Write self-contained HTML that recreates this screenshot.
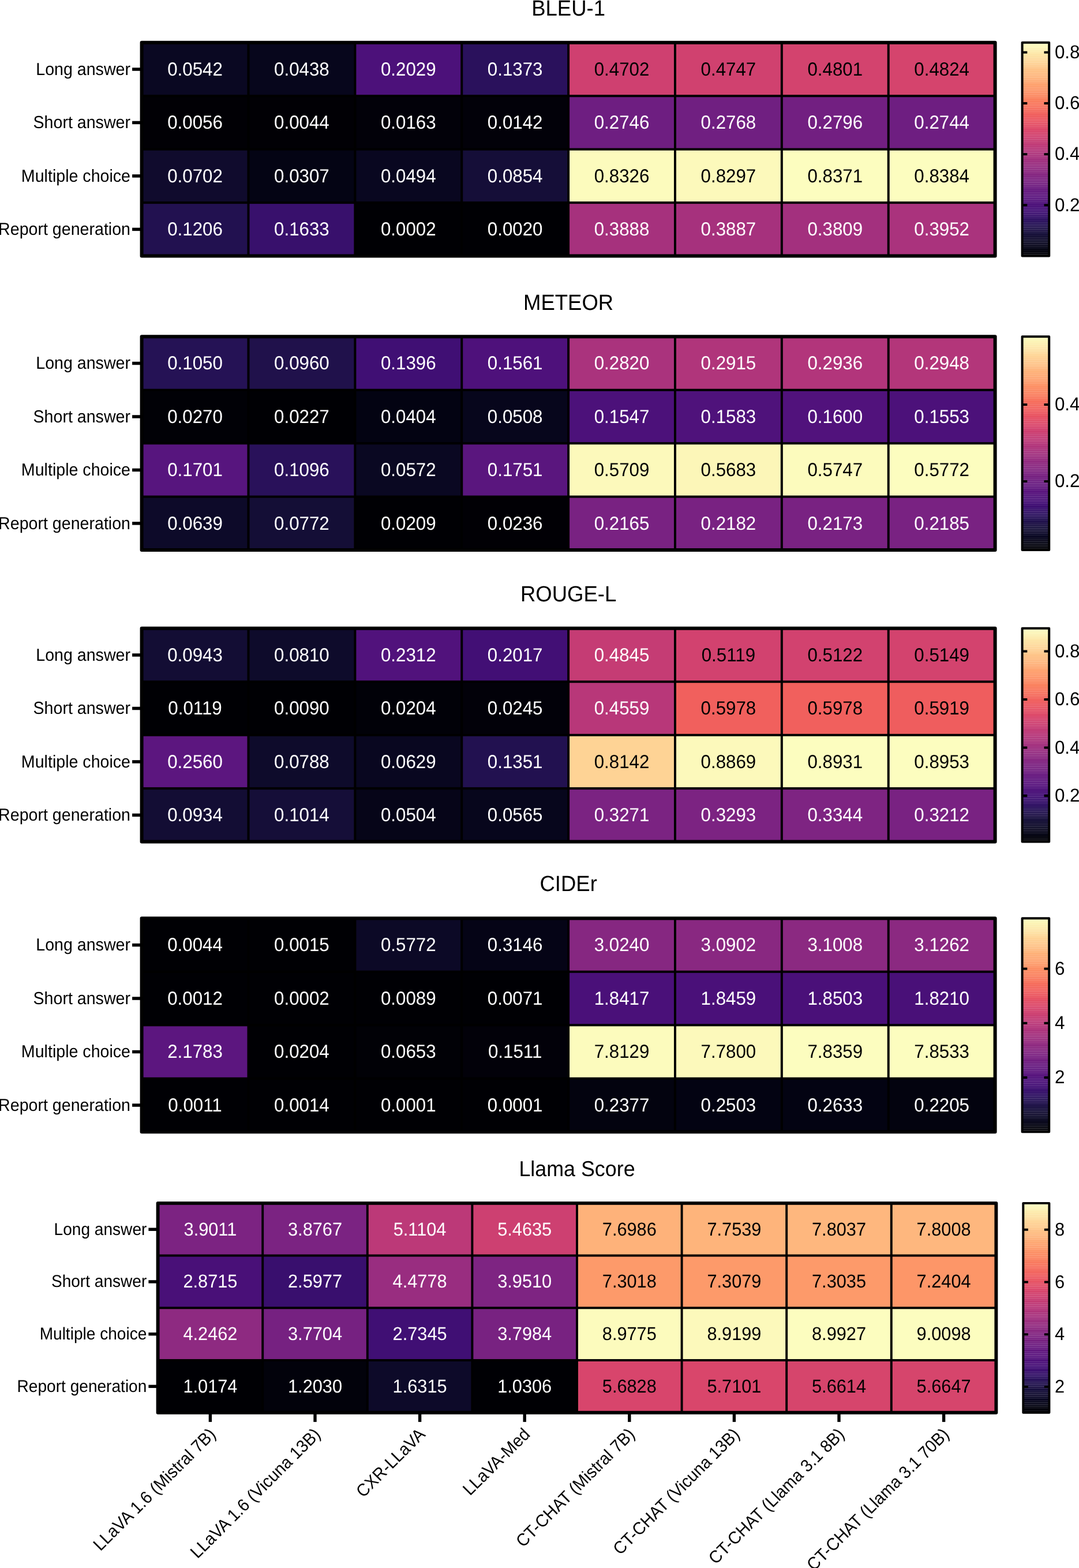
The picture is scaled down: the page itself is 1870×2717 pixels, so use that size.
<!DOCTYPE html>
<html><head><meta charset="utf-8"><title>Heatmaps</title><style>
html,body{margin:0;padding:0;background:#fff;}
body{width:1870px;height:2717px;overflow:hidden;}
svg{display:block;}
text{font-family:"Liberation Sans",Arial,Helvetica,sans-serif;text-rendering:geometricPrecision;}
.t{text-anchor:middle;fill:#000;}
.c{text-anchor:middle;}
.r{text-anchor:end;fill:#000;}
.b{text-anchor:start;fill:#000;}
.x{text-anchor:end;fill:#000;}
</style></head><body>
<svg width="1870" height="2717" viewBox="0 0 1870 2717">
<g>
<text class="t" style="font-size:36.50px" transform="translate(985.10 26.50) scale(1 1.045)">BLEU-1</text>
<rect x="245.60" y="73.80" width="1479.00" height="369.80" fill="#000"/>
<rect x="247.60" y="75.80" width="180.88" height="88.45" fill="#0a0822"/>
<rect x="432.48" y="75.80" width="180.88" height="88.45" fill="#07061c"/>
<rect x="617.35" y="75.80" width="180.88" height="88.45" fill="#4c117a"/>
<rect x="802.23" y="75.80" width="180.88" height="88.45" fill="#2a115c"/>
<rect x="987.10" y="75.80" width="180.88" height="88.45" fill="#cf4070"/>
<rect x="1171.97" y="75.80" width="180.88" height="88.45" fill="#d0416f"/>
<rect x="1356.85" y="75.80" width="180.88" height="88.45" fill="#d3436e"/>
<rect x="1541.72" y="75.80" width="180.88" height="88.45" fill="#d5446d"/>
<rect x="247.60" y="168.25" width="180.88" height="88.45" fill="#010005"/>
<rect x="432.48" y="168.25" width="180.88" height="88.45" fill="#010005"/>
<rect x="617.35" y="168.25" width="180.88" height="88.45" fill="#020109"/>
<rect x="802.23" y="168.25" width="180.88" height="88.45" fill="#020109"/>
<rect x="987.10" y="168.25" width="180.88" height="88.45" fill="#6e1e81"/>
<rect x="1171.97" y="168.25" width="180.88" height="88.45" fill="#701f81"/>
<rect x="1356.85" y="168.25" width="180.88" height="88.45" fill="#721f81"/>
<rect x="1541.72" y="168.25" width="180.88" height="88.45" fill="#6e1e81"/>
<rect x="247.60" y="260.70" width="180.88" height="88.45" fill="#100b2d"/>
<rect x="432.48" y="260.70" width="180.88" height="88.45" fill="#040414"/>
<rect x="617.35" y="260.70" width="180.88" height="88.45" fill="#090720"/>
<rect x="802.23" y="260.70" width="180.88" height="88.45" fill="#150e38"/>
<rect x="987.10" y="260.70" width="180.88" height="88.45" fill="#fcfbbd"/>
<rect x="1171.97" y="260.70" width="180.88" height="88.45" fill="#fcf9bb"/>
<rect x="1356.85" y="260.70" width="180.88" height="88.45" fill="#fcfdbf"/>
<rect x="1541.72" y="260.70" width="180.88" height="88.45" fill="#fcfdbf"/>
<rect x="247.60" y="353.15" width="180.88" height="88.45" fill="#221150"/>
<rect x="432.48" y="353.15" width="180.88" height="88.45" fill="#38106c"/>
<rect x="617.35" y="353.15" width="180.88" height="88.45" fill="#000004"/>
<rect x="802.23" y="353.15" width="180.88" height="88.45" fill="#000004"/>
<rect x="987.10" y="353.15" width="180.88" height="88.45" fill="#a6317d"/>
<rect x="1171.97" y="353.15" width="180.88" height="88.45" fill="#a6317d"/>
<rect x="1356.85" y="353.15" width="180.88" height="88.45" fill="#a3307e"/>
<rect x="1541.72" y="353.15" width="180.88" height="88.45" fill="#aa337d"/>
<rect x="245.60" y="73.80" width="1479.00" height="369.80" fill="none" stroke="#000" stroke-width="6.00" stroke-linejoin="round"/>
<text class="c" fill="#fff" style="font-size:31.30px" transform="translate(338.04 130.66) scale(1 1.050)">0.0542</text>
<text class="c" fill="#fff" style="font-size:31.30px" transform="translate(522.91 130.66) scale(1 1.050)">0.0438</text>
<text class="c" fill="#fff" style="font-size:31.30px" transform="translate(707.79 130.66) scale(1 1.050)">0.2029</text>
<text class="c" fill="#fff" style="font-size:31.30px" transform="translate(892.66 130.66) scale(1 1.050)">0.1373</text>
<text class="c" fill="#000" style="font-size:31.30px" transform="translate(1077.54 130.66) scale(1 1.050)">0.4702</text>
<text class="c" fill="#000" style="font-size:31.30px" transform="translate(1262.41 130.66) scale(1 1.050)">0.4747</text>
<text class="c" fill="#000" style="font-size:31.30px" transform="translate(1447.29 130.66) scale(1 1.050)">0.4801</text>
<text class="c" fill="#000" style="font-size:31.30px" transform="translate(1632.16 130.66) scale(1 1.050)">0.4824</text>
<text class="c" fill="#fff" style="font-size:31.30px" transform="translate(338.04 223.11) scale(1 1.050)">0.0056</text>
<text class="c" fill="#fff" style="font-size:31.30px" transform="translate(522.91 223.11) scale(1 1.050)">0.0044</text>
<text class="c" fill="#fff" style="font-size:31.30px" transform="translate(707.79 223.11) scale(1 1.050)">0.0163</text>
<text class="c" fill="#fff" style="font-size:31.30px" transform="translate(892.66 223.11) scale(1 1.050)">0.0142</text>
<text class="c" fill="#fff" style="font-size:31.30px" transform="translate(1077.54 223.11) scale(1 1.050)">0.2746</text>
<text class="c" fill="#fff" style="font-size:31.30px" transform="translate(1262.41 223.11) scale(1 1.050)">0.2768</text>
<text class="c" fill="#fff" style="font-size:31.30px" transform="translate(1447.29 223.11) scale(1 1.050)">0.2796</text>
<text class="c" fill="#fff" style="font-size:31.30px" transform="translate(1632.16 223.11) scale(1 1.050)">0.2744</text>
<text class="c" fill="#fff" style="font-size:31.30px" transform="translate(338.04 315.56) scale(1 1.050)">0.0702</text>
<text class="c" fill="#fff" style="font-size:31.30px" transform="translate(522.91 315.56) scale(1 1.050)">0.0307</text>
<text class="c" fill="#fff" style="font-size:31.30px" transform="translate(707.79 315.56) scale(1 1.050)">0.0494</text>
<text class="c" fill="#fff" style="font-size:31.30px" transform="translate(892.66 315.56) scale(1 1.050)">0.0854</text>
<text class="c" fill="#000" style="font-size:31.30px" transform="translate(1077.54 315.56) scale(1 1.050)">0.8326</text>
<text class="c" fill="#000" style="font-size:31.30px" transform="translate(1262.41 315.56) scale(1 1.050)">0.8297</text>
<text class="c" fill="#000" style="font-size:31.30px" transform="translate(1447.29 315.56) scale(1 1.050)">0.8371</text>
<text class="c" fill="#000" style="font-size:31.30px" transform="translate(1632.16 315.56) scale(1 1.050)">0.8384</text>
<text class="c" fill="#fff" style="font-size:31.30px" transform="translate(338.04 408.01) scale(1 1.050)">0.1206</text>
<text class="c" fill="#fff" style="font-size:31.30px" transform="translate(522.91 408.01) scale(1 1.050)">0.1633</text>
<text class="c" fill="#fff" style="font-size:31.30px" transform="translate(707.79 408.01) scale(1 1.050)">0.0002</text>
<text class="c" fill="#fff" style="font-size:31.30px" transform="translate(892.66 408.01) scale(1 1.050)">0.0020</text>
<text class="c" fill="#fff" style="font-size:31.30px" transform="translate(1077.54 408.01) scale(1 1.050)">0.3888</text>
<text class="c" fill="#fff" style="font-size:31.30px" transform="translate(1262.41 408.01) scale(1 1.050)">0.3887</text>
<text class="c" fill="#fff" style="font-size:31.30px" transform="translate(1447.29 408.01) scale(1 1.050)">0.3809</text>
<text class="c" fill="#fff" style="font-size:31.30px" transform="translate(1632.16 408.01) scale(1 1.050)">0.3952</text>
<line x1="229.10" y1="120.03" x2="245.60" y2="120.03" stroke="#000" stroke-width="5.50"/>
<text class="r" style="font-size:28.60px" transform="translate(226.00 129.75) scale(1 1.060)">Long answer</text>
<line x1="229.10" y1="212.48" x2="245.60" y2="212.48" stroke="#000" stroke-width="5.50"/>
<text class="r" style="font-size:28.60px" transform="translate(226.00 222.20) scale(1 1.060)">Short answer</text>
<line x1="229.10" y1="304.93" x2="245.60" y2="304.93" stroke="#000" stroke-width="5.50"/>
<text class="r" style="font-size:28.60px" transform="translate(226.00 314.65) scale(1 1.060)">Multiple choice</text>
<line x1="229.10" y1="397.38" x2="245.60" y2="397.38" stroke="#000" stroke-width="5.50"/>
<text class="r" style="font-size:28.60px" transform="translate(226.00 407.10) scale(1 1.060)">Report generation</text>
<rect x="1771.60" y="440.711" width="46.60" height="2.889" fill="#010005"/>
<rect x="1771.60" y="437.822" width="46.60" height="2.889" fill="#010108"/>
<rect x="1771.60" y="434.933" width="46.60" height="2.889" fill="#02020b"/>
<rect x="1771.60" y="432.044" width="46.60" height="2.889" fill="#03030f"/>
<rect x="1771.60" y="429.155" width="46.60" height="2.889" fill="#040414"/>
<rect x="1771.60" y="426.266" width="46.60" height="2.889" fill="#060518"/>
<rect x="1771.60" y="423.377" width="46.60" height="2.889" fill="#07061c"/>
<rect x="1771.60" y="420.488" width="46.60" height="2.889" fill="#090720"/>
<rect x="1771.60" y="417.598" width="46.60" height="2.889" fill="#0b0924"/>
<rect x="1771.60" y="414.709" width="46.60" height="2.889" fill="#0d0a29"/>
<rect x="1771.60" y="411.820" width="46.60" height="2.889" fill="#100b2d"/>
<rect x="1771.60" y="408.931" width="46.60" height="2.889" fill="#120d31"/>
<rect x="1771.60" y="406.042" width="46.60" height="2.889" fill="#140e36"/>
<rect x="1771.60" y="403.153" width="46.60" height="2.889" fill="#160f3b"/>
<rect x="1771.60" y="400.264" width="46.60" height="2.889" fill="#19103f"/>
<rect x="1771.60" y="397.375" width="46.60" height="2.889" fill="#1c1044"/>
<rect x="1771.60" y="394.486" width="46.60" height="2.889" fill="#1e1149"/>
<rect x="1771.60" y="391.597" width="46.60" height="2.889" fill="#21114e"/>
<rect x="1771.60" y="388.708" width="46.60" height="2.889" fill="#241253"/>
<rect x="1771.60" y="385.819" width="46.60" height="2.889" fill="#271258"/>
<rect x="1771.60" y="382.930" width="46.60" height="2.889" fill="#2a115c"/>
<rect x="1771.60" y="380.041" width="46.60" height="2.889" fill="#2d1161"/>
<rect x="1771.60" y="377.152" width="46.60" height="2.889" fill="#311165"/>
<rect x="1771.60" y="374.263" width="46.60" height="2.889" fill="#341069"/>
<rect x="1771.60" y="371.373" width="46.60" height="2.889" fill="#38106c"/>
<rect x="1771.60" y="368.484" width="46.60" height="2.889" fill="#3b0f70"/>
<rect x="1771.60" y="365.595" width="46.60" height="2.889" fill="#3f0f72"/>
<rect x="1771.60" y="362.706" width="46.60" height="2.889" fill="#420f75"/>
<rect x="1771.60" y="359.817" width="46.60" height="2.889" fill="#451077"/>
<rect x="1771.60" y="356.928" width="46.60" height="2.889" fill="#491078"/>
<rect x="1771.60" y="354.039" width="46.60" height="2.889" fill="#4c117a"/>
<rect x="1771.60" y="351.150" width="46.60" height="2.889" fill="#4f127b"/>
<rect x="1771.60" y="348.261" width="46.60" height="2.889" fill="#52137c"/>
<rect x="1771.60" y="345.372" width="46.60" height="2.889" fill="#56147d"/>
<rect x="1771.60" y="342.483" width="46.60" height="2.889" fill="#59157e"/>
<rect x="1771.60" y="339.594" width="46.60" height="2.889" fill="#5c167f"/>
<rect x="1771.60" y="336.705" width="46.60" height="2.889" fill="#5f187f"/>
<rect x="1771.60" y="333.816" width="46.60" height="2.889" fill="#621980"/>
<rect x="1771.60" y="330.927" width="46.60" height="2.889" fill="#651a80"/>
<rect x="1771.60" y="328.038" width="46.60" height="2.889" fill="#681c81"/>
<rect x="1771.60" y="325.148" width="46.60" height="2.889" fill="#6b1d81"/>
<rect x="1771.60" y="322.259" width="46.60" height="2.889" fill="#6e1e81"/>
<rect x="1771.60" y="319.370" width="46.60" height="2.889" fill="#721f81"/>
<rect x="1771.60" y="316.481" width="46.60" height="2.889" fill="#752181"/>
<rect x="1771.60" y="313.592" width="46.60" height="2.889" fill="#782281"/>
<rect x="1771.60" y="310.703" width="46.60" height="2.889" fill="#7b2382"/>
<rect x="1771.60" y="307.814" width="46.60" height="2.889" fill="#7e2482"/>
<rect x="1771.60" y="304.925" width="46.60" height="2.889" fill="#812581"/>
<rect x="1771.60" y="302.036" width="46.60" height="2.889" fill="#842681"/>
<rect x="1771.60" y="299.147" width="46.60" height="2.889" fill="#882781"/>
<rect x="1771.60" y="296.258" width="46.60" height="2.889" fill="#8b2981"/>
<rect x="1771.60" y="293.369" width="46.60" height="2.889" fill="#8e2a81"/>
<rect x="1771.60" y="290.480" width="46.60" height="2.889" fill="#912b81"/>
<rect x="1771.60" y="287.591" width="46.60" height="2.889" fill="#942c80"/>
<rect x="1771.60" y="284.702" width="46.60" height="2.889" fill="#982d80"/>
<rect x="1771.60" y="281.812" width="46.60" height="2.889" fill="#9b2e7f"/>
<rect x="1771.60" y="278.923" width="46.60" height="2.889" fill="#9e2f7f"/>
<rect x="1771.60" y="276.034" width="46.60" height="2.889" fill="#a1307e"/>
<rect x="1771.60" y="273.145" width="46.60" height="2.889" fill="#a5317e"/>
<rect x="1771.60" y="270.256" width="46.60" height="2.889" fill="#a8327d"/>
<rect x="1771.60" y="267.367" width="46.60" height="2.889" fill="#ab337c"/>
<rect x="1771.60" y="264.478" width="46.60" height="2.889" fill="#ae347b"/>
<rect x="1771.60" y="261.589" width="46.60" height="2.889" fill="#b2357b"/>
<rect x="1771.60" y="258.700" width="46.60" height="2.889" fill="#b5367a"/>
<rect x="1771.60" y="255.811" width="46.60" height="2.889" fill="#b83779"/>
<rect x="1771.60" y="252.922" width="46.60" height="2.889" fill="#bc3978"/>
<rect x="1771.60" y="250.033" width="46.60" height="2.889" fill="#bf3a77"/>
<rect x="1771.60" y="247.144" width="46.60" height="2.889" fill="#c23b75"/>
<rect x="1771.60" y="244.255" width="46.60" height="2.889" fill="#c53c74"/>
<rect x="1771.60" y="241.366" width="46.60" height="2.889" fill="#c83e73"/>
<rect x="1771.60" y="238.477" width="46.60" height="2.889" fill="#cc3f71"/>
<rect x="1771.60" y="235.588" width="46.60" height="2.889" fill="#cf4070"/>
<rect x="1771.60" y="232.698" width="46.60" height="2.889" fill="#d2426f"/>
<rect x="1771.60" y="229.809" width="46.60" height="2.889" fill="#d5446d"/>
<rect x="1771.60" y="226.920" width="46.60" height="2.889" fill="#d8456c"/>
<rect x="1771.60" y="224.031" width="46.60" height="2.889" fill="#db476a"/>
<rect x="1771.60" y="221.142" width="46.60" height="2.889" fill="#de4968"/>
<rect x="1771.60" y="218.253" width="46.60" height="2.889" fill="#e04c67"/>
<rect x="1771.60" y="215.364" width="46.60" height="2.889" fill="#e34e65"/>
<rect x="1771.60" y="212.475" width="46.60" height="2.889" fill="#e55064"/>
<rect x="1771.60" y="209.586" width="46.60" height="2.889" fill="#e85362"/>
<rect x="1771.60" y="206.697" width="46.60" height="2.889" fill="#ea5661"/>
<rect x="1771.60" y="203.808" width="46.60" height="2.889" fill="#ec5860"/>
<rect x="1771.60" y="200.919" width="46.60" height="2.889" fill="#ee5b5e"/>
<rect x="1771.60" y="198.030" width="46.60" height="2.889" fill="#f05f5e"/>
<rect x="1771.60" y="195.141" width="46.60" height="2.889" fill="#f2625d"/>
<rect x="1771.60" y="192.252" width="46.60" height="2.889" fill="#f3655c"/>
<rect x="1771.60" y="189.363" width="46.60" height="2.889" fill="#f4695c"/>
<rect x="1771.60" y="186.473" width="46.60" height="2.889" fill="#f66c5c"/>
<rect x="1771.60" y="183.584" width="46.60" height="2.889" fill="#f7705c"/>
<rect x="1771.60" y="180.695" width="46.60" height="2.889" fill="#f8745c"/>
<rect x="1771.60" y="177.806" width="46.60" height="2.889" fill="#f9785d"/>
<rect x="1771.60" y="174.917" width="46.60" height="2.889" fill="#f97b5d"/>
<rect x="1771.60" y="172.028" width="46.60" height="2.889" fill="#fa7f5e"/>
<rect x="1771.60" y="169.139" width="46.60" height="2.889" fill="#fb835f"/>
<rect x="1771.60" y="166.250" width="46.60" height="2.889" fill="#fb8761"/>
<rect x="1771.60" y="163.361" width="46.60" height="2.889" fill="#fc8a62"/>
<rect x="1771.60" y="160.472" width="46.60" height="2.889" fill="#fc8e64"/>
<rect x="1771.60" y="157.583" width="46.60" height="2.889" fill="#fd9266"/>
<rect x="1771.60" y="154.694" width="46.60" height="2.889" fill="#fd9668"/>
<rect x="1771.60" y="151.805" width="46.60" height="2.889" fill="#fd9a6a"/>
<rect x="1771.60" y="148.916" width="46.60" height="2.889" fill="#fe9d6c"/>
<rect x="1771.60" y="146.027" width="46.60" height="2.889" fill="#fea16e"/>
<rect x="1771.60" y="143.137" width="46.60" height="2.889" fill="#fea571"/>
<rect x="1771.60" y="140.248" width="46.60" height="2.889" fill="#fea973"/>
<rect x="1771.60" y="137.359" width="46.60" height="2.889" fill="#feac76"/>
<rect x="1771.60" y="134.470" width="46.60" height="2.889" fill="#feb078"/>
<rect x="1771.60" y="131.581" width="46.60" height="2.889" fill="#feb47b"/>
<rect x="1771.60" y="128.692" width="46.60" height="2.889" fill="#feb77e"/>
<rect x="1771.60" y="125.803" width="46.60" height="2.889" fill="#febb81"/>
<rect x="1771.60" y="122.914" width="46.60" height="2.889" fill="#febf84"/>
<rect x="1771.60" y="120.025" width="46.60" height="2.889" fill="#fec287"/>
<rect x="1771.60" y="117.136" width="46.60" height="2.889" fill="#fec68a"/>
<rect x="1771.60" y="114.247" width="46.60" height="2.889" fill="#feca8d"/>
<rect x="1771.60" y="111.358" width="46.60" height="2.889" fill="#fecd90"/>
<rect x="1771.60" y="108.469" width="46.60" height="2.889" fill="#fed194"/>
<rect x="1771.60" y="105.580" width="46.60" height="2.889" fill="#fed597"/>
<rect x="1771.60" y="102.691" width="46.60" height="2.889" fill="#fed89a"/>
<rect x="1771.60" y="99.802" width="46.60" height="2.889" fill="#fddc9e"/>
<rect x="1771.60" y="96.913" width="46.60" height="2.889" fill="#fde0a1"/>
<rect x="1771.60" y="94.023" width="46.60" height="2.889" fill="#fde3a5"/>
<rect x="1771.60" y="91.134" width="46.60" height="2.889" fill="#fde7a9"/>
<rect x="1771.60" y="88.245" width="46.60" height="2.889" fill="#fdebac"/>
<rect x="1771.60" y="85.356" width="46.60" height="2.889" fill="#fceeb0"/>
<rect x="1771.60" y="82.467" width="46.60" height="2.889" fill="#fcf2b4"/>
<rect x="1771.60" y="79.578" width="46.60" height="2.889" fill="#fcf6b8"/>
<rect x="1771.60" y="76.689" width="46.60" height="2.889" fill="#fcf9bb"/>
<rect x="1771.60" y="73.800" width="46.60" height="2.889" fill="#fcfdbf"/>
<line x1="1771.60" y1="355.45" x2="1780.30" y2="355.45" stroke="#000" stroke-width="4.00"/>
<line x1="1809.50" y1="355.45" x2="1818.20" y2="355.45" stroke="#000" stroke-width="4.00"/>
<text class="b" style="font-size:31.40px" transform="translate(1827.90 365.68) scale(1 1.030)">0.2</text>
<line x1="1771.60" y1="267.21" x2="1780.30" y2="267.21" stroke="#000" stroke-width="4.00"/>
<line x1="1809.50" y1="267.21" x2="1818.20" y2="267.21" stroke="#000" stroke-width="4.00"/>
<text class="b" style="font-size:31.40px" transform="translate(1827.90 277.44) scale(1 1.030)">0.4</text>
<line x1="1771.60" y1="178.98" x2="1780.30" y2="178.98" stroke="#000" stroke-width="4.00"/>
<line x1="1809.50" y1="178.98" x2="1818.20" y2="178.98" stroke="#000" stroke-width="4.00"/>
<text class="b" style="font-size:31.40px" transform="translate(1827.90 189.20) scale(1 1.030)">0.6</text>
<line x1="1771.60" y1="90.74" x2="1780.30" y2="90.74" stroke="#000" stroke-width="4.00"/>
<line x1="1809.50" y1="90.74" x2="1818.20" y2="90.74" stroke="#000" stroke-width="4.00"/>
<text class="b" style="font-size:31.40px" transform="translate(1827.90 100.97) scale(1 1.030)">0.8</text>
<rect x="1771.60" y="73.80" width="46.60" height="369.80" fill="none" stroke="#000" stroke-width="4.00" stroke-linejoin="round"/>
</g>
<g>
<text class="t" style="font-size:36.50px" transform="translate(985.10 536.60) scale(1 1.045)">METEOR</text>
<rect x="245.60" y="583.30" width="1479.00" height="369.80" fill="#000"/>
<rect x="247.60" y="585.30" width="180.88" height="88.45" fill="#251255"/>
<rect x="432.48" y="585.30" width="180.88" height="88.45" fill="#20114b"/>
<rect x="617.35" y="585.30" width="180.88" height="88.45" fill="#400f74"/>
<rect x="802.23" y="585.30" width="180.88" height="88.45" fill="#4e117b"/>
<rect x="987.10" y="585.30" width="180.88" height="88.45" fill="#aa337d"/>
<rect x="1171.97" y="585.30" width="180.88" height="88.45" fill="#b0357b"/>
<rect x="1356.85" y="585.30" width="180.88" height="88.45" fill="#b2357b"/>
<rect x="1541.72" y="585.30" width="180.88" height="88.45" fill="#b3367a"/>
<rect x="247.60" y="677.75" width="180.88" height="88.45" fill="#010106"/>
<rect x="432.48" y="677.75" width="180.88" height="88.45" fill="#000004"/>
<rect x="617.35" y="677.75" width="180.88" height="88.45" fill="#030312"/>
<rect x="802.23" y="677.75" width="180.88" height="88.45" fill="#07061c"/>
<rect x="987.10" y="677.75" width="180.88" height="88.45" fill="#4c117a"/>
<rect x="1171.97" y="677.75" width="180.88" height="88.45" fill="#4f127b"/>
<rect x="1356.85" y="677.75" width="180.88" height="88.45" fill="#51127c"/>
<rect x="1541.72" y="677.75" width="180.88" height="88.45" fill="#4c117a"/>
<rect x="247.60" y="770.20" width="180.88" height="88.45" fill="#57157e"/>
<rect x="432.48" y="770.20" width="180.88" height="88.45" fill="#29115a"/>
<rect x="617.35" y="770.20" width="180.88" height="88.45" fill="#0a0822"/>
<rect x="802.23" y="770.20" width="180.88" height="88.45" fill="#5a167e"/>
<rect x="987.10" y="770.20" width="180.88" height="88.45" fill="#fcf9bb"/>
<rect x="1171.97" y="770.20" width="180.88" height="88.45" fill="#fcf6b8"/>
<rect x="1356.85" y="770.20" width="180.88" height="88.45" fill="#fcfbbd"/>
<rect x="1541.72" y="770.20" width="180.88" height="88.45" fill="#fcfdbf"/>
<rect x="247.60" y="862.65" width="180.88" height="88.45" fill="#0d0a29"/>
<rect x="432.48" y="862.65" width="180.88" height="88.45" fill="#140e36"/>
<rect x="617.35" y="862.65" width="180.88" height="88.45" fill="#000004"/>
<rect x="802.23" y="862.65" width="180.88" height="88.45" fill="#010005"/>
<rect x="987.10" y="862.65" width="180.88" height="88.45" fill="#792282"/>
<rect x="1171.97" y="862.65" width="180.88" height="88.45" fill="#792282"/>
<rect x="1356.85" y="862.65" width="180.88" height="88.45" fill="#792282"/>
<rect x="1541.72" y="862.65" width="180.88" height="88.45" fill="#792282"/>
<rect x="245.60" y="583.30" width="1479.00" height="369.80" fill="none" stroke="#000" stroke-width="6.00" stroke-linejoin="round"/>
<text class="c" fill="#fff" style="font-size:31.30px" transform="translate(338.04 640.16) scale(1 1.050)">0.1050</text>
<text class="c" fill="#fff" style="font-size:31.30px" transform="translate(522.91 640.16) scale(1 1.050)">0.0960</text>
<text class="c" fill="#fff" style="font-size:31.30px" transform="translate(707.79 640.16) scale(1 1.050)">0.1396</text>
<text class="c" fill="#fff" style="font-size:31.30px" transform="translate(892.66 640.16) scale(1 1.050)">0.1561</text>
<text class="c" fill="#fff" style="font-size:31.30px" transform="translate(1077.54 640.16) scale(1 1.050)">0.2820</text>
<text class="c" fill="#fff" style="font-size:31.30px" transform="translate(1262.41 640.16) scale(1 1.050)">0.2915</text>
<text class="c" fill="#fff" style="font-size:31.30px" transform="translate(1447.29 640.16) scale(1 1.050)">0.2936</text>
<text class="c" fill="#fff" style="font-size:31.30px" transform="translate(1632.16 640.16) scale(1 1.050)">0.2948</text>
<text class="c" fill="#fff" style="font-size:31.30px" transform="translate(338.04 732.61) scale(1 1.050)">0.0270</text>
<text class="c" fill="#fff" style="font-size:31.30px" transform="translate(522.91 732.61) scale(1 1.050)">0.0227</text>
<text class="c" fill="#fff" style="font-size:31.30px" transform="translate(707.79 732.61) scale(1 1.050)">0.0404</text>
<text class="c" fill="#fff" style="font-size:31.30px" transform="translate(892.66 732.61) scale(1 1.050)">0.0508</text>
<text class="c" fill="#fff" style="font-size:31.30px" transform="translate(1077.54 732.61) scale(1 1.050)">0.1547</text>
<text class="c" fill="#fff" style="font-size:31.30px" transform="translate(1262.41 732.61) scale(1 1.050)">0.1583</text>
<text class="c" fill="#fff" style="font-size:31.30px" transform="translate(1447.29 732.61) scale(1 1.050)">0.1600</text>
<text class="c" fill="#fff" style="font-size:31.30px" transform="translate(1632.16 732.61) scale(1 1.050)">0.1553</text>
<text class="c" fill="#fff" style="font-size:31.30px" transform="translate(338.04 825.06) scale(1 1.050)">0.1701</text>
<text class="c" fill="#fff" style="font-size:31.30px" transform="translate(522.91 825.06) scale(1 1.050)">0.1096</text>
<text class="c" fill="#fff" style="font-size:31.30px" transform="translate(707.79 825.06) scale(1 1.050)">0.0572</text>
<text class="c" fill="#fff" style="font-size:31.30px" transform="translate(892.66 825.06) scale(1 1.050)">0.1751</text>
<text class="c" fill="#000" style="font-size:31.30px" transform="translate(1077.54 825.06) scale(1 1.050)">0.5709</text>
<text class="c" fill="#000" style="font-size:31.30px" transform="translate(1262.41 825.06) scale(1 1.050)">0.5683</text>
<text class="c" fill="#000" style="font-size:31.30px" transform="translate(1447.29 825.06) scale(1 1.050)">0.5747</text>
<text class="c" fill="#000" style="font-size:31.30px" transform="translate(1632.16 825.06) scale(1 1.050)">0.5772</text>
<text class="c" fill="#fff" style="font-size:31.30px" transform="translate(338.04 917.51) scale(1 1.050)">0.0639</text>
<text class="c" fill="#fff" style="font-size:31.30px" transform="translate(522.91 917.51) scale(1 1.050)">0.0772</text>
<text class="c" fill="#fff" style="font-size:31.30px" transform="translate(707.79 917.51) scale(1 1.050)">0.0209</text>
<text class="c" fill="#fff" style="font-size:31.30px" transform="translate(892.66 917.51) scale(1 1.050)">0.0236</text>
<text class="c" fill="#fff" style="font-size:31.30px" transform="translate(1077.54 917.51) scale(1 1.050)">0.2165</text>
<text class="c" fill="#fff" style="font-size:31.30px" transform="translate(1262.41 917.51) scale(1 1.050)">0.2182</text>
<text class="c" fill="#fff" style="font-size:31.30px" transform="translate(1447.29 917.51) scale(1 1.050)">0.2173</text>
<text class="c" fill="#fff" style="font-size:31.30px" transform="translate(1632.16 917.51) scale(1 1.050)">0.2185</text>
<line x1="229.10" y1="629.52" x2="245.60" y2="629.52" stroke="#000" stroke-width="5.50"/>
<text class="r" style="font-size:28.60px" transform="translate(226.00 639.25) scale(1 1.060)">Long answer</text>
<line x1="229.10" y1="721.97" x2="245.60" y2="721.97" stroke="#000" stroke-width="5.50"/>
<text class="r" style="font-size:28.60px" transform="translate(226.00 731.70) scale(1 1.060)">Short answer</text>
<line x1="229.10" y1="814.42" x2="245.60" y2="814.42" stroke="#000" stroke-width="5.50"/>
<text class="r" style="font-size:28.60px" transform="translate(226.00 824.15) scale(1 1.060)">Multiple choice</text>
<line x1="229.10" y1="906.88" x2="245.60" y2="906.88" stroke="#000" stroke-width="5.50"/>
<text class="r" style="font-size:28.60px" transform="translate(226.00 916.60) scale(1 1.060)">Report generation</text>
<rect x="1771.60" y="950.211" width="46.60" height="2.889" fill="#010005"/>
<rect x="1771.60" y="947.322" width="46.60" height="2.889" fill="#010108"/>
<rect x="1771.60" y="944.433" width="46.60" height="2.889" fill="#02020b"/>
<rect x="1771.60" y="941.544" width="46.60" height="2.889" fill="#03030f"/>
<rect x="1771.60" y="938.655" width="46.60" height="2.889" fill="#040414"/>
<rect x="1771.60" y="935.766" width="46.60" height="2.889" fill="#060518"/>
<rect x="1771.60" y="932.877" width="46.60" height="2.889" fill="#07061c"/>
<rect x="1771.60" y="929.988" width="46.60" height="2.889" fill="#090720"/>
<rect x="1771.60" y="927.098" width="46.60" height="2.889" fill="#0b0924"/>
<rect x="1771.60" y="924.209" width="46.60" height="2.889" fill="#0d0a29"/>
<rect x="1771.60" y="921.320" width="46.60" height="2.889" fill="#100b2d"/>
<rect x="1771.60" y="918.431" width="46.60" height="2.889" fill="#120d31"/>
<rect x="1771.60" y="915.542" width="46.60" height="2.889" fill="#140e36"/>
<rect x="1771.60" y="912.653" width="46.60" height="2.889" fill="#160f3b"/>
<rect x="1771.60" y="909.764" width="46.60" height="2.889" fill="#19103f"/>
<rect x="1771.60" y="906.875" width="46.60" height="2.889" fill="#1c1044"/>
<rect x="1771.60" y="903.986" width="46.60" height="2.889" fill="#1e1149"/>
<rect x="1771.60" y="901.097" width="46.60" height="2.889" fill="#21114e"/>
<rect x="1771.60" y="898.208" width="46.60" height="2.889" fill="#241253"/>
<rect x="1771.60" y="895.319" width="46.60" height="2.889" fill="#271258"/>
<rect x="1771.60" y="892.430" width="46.60" height="2.889" fill="#2a115c"/>
<rect x="1771.60" y="889.541" width="46.60" height="2.889" fill="#2d1161"/>
<rect x="1771.60" y="886.652" width="46.60" height="2.889" fill="#311165"/>
<rect x="1771.60" y="883.763" width="46.60" height="2.889" fill="#341069"/>
<rect x="1771.60" y="880.873" width="46.60" height="2.889" fill="#38106c"/>
<rect x="1771.60" y="877.984" width="46.60" height="2.889" fill="#3b0f70"/>
<rect x="1771.60" y="875.095" width="46.60" height="2.889" fill="#3f0f72"/>
<rect x="1771.60" y="872.206" width="46.60" height="2.889" fill="#420f75"/>
<rect x="1771.60" y="869.317" width="46.60" height="2.889" fill="#451077"/>
<rect x="1771.60" y="866.428" width="46.60" height="2.889" fill="#491078"/>
<rect x="1771.60" y="863.539" width="46.60" height="2.889" fill="#4c117a"/>
<rect x="1771.60" y="860.650" width="46.60" height="2.889" fill="#4f127b"/>
<rect x="1771.60" y="857.761" width="46.60" height="2.889" fill="#52137c"/>
<rect x="1771.60" y="854.872" width="46.60" height="2.889" fill="#56147d"/>
<rect x="1771.60" y="851.983" width="46.60" height="2.889" fill="#59157e"/>
<rect x="1771.60" y="849.094" width="46.60" height="2.889" fill="#5c167f"/>
<rect x="1771.60" y="846.205" width="46.60" height="2.889" fill="#5f187f"/>
<rect x="1771.60" y="843.316" width="46.60" height="2.889" fill="#621980"/>
<rect x="1771.60" y="840.427" width="46.60" height="2.889" fill="#651a80"/>
<rect x="1771.60" y="837.538" width="46.60" height="2.889" fill="#681c81"/>
<rect x="1771.60" y="834.648" width="46.60" height="2.889" fill="#6b1d81"/>
<rect x="1771.60" y="831.759" width="46.60" height="2.889" fill="#6e1e81"/>
<rect x="1771.60" y="828.870" width="46.60" height="2.889" fill="#721f81"/>
<rect x="1771.60" y="825.981" width="46.60" height="2.889" fill="#752181"/>
<rect x="1771.60" y="823.092" width="46.60" height="2.889" fill="#782281"/>
<rect x="1771.60" y="820.203" width="46.60" height="2.889" fill="#7b2382"/>
<rect x="1771.60" y="817.314" width="46.60" height="2.889" fill="#7e2482"/>
<rect x="1771.60" y="814.425" width="46.60" height="2.889" fill="#812581"/>
<rect x="1771.60" y="811.536" width="46.60" height="2.889" fill="#842681"/>
<rect x="1771.60" y="808.647" width="46.60" height="2.889" fill="#882781"/>
<rect x="1771.60" y="805.758" width="46.60" height="2.889" fill="#8b2981"/>
<rect x="1771.60" y="802.869" width="46.60" height="2.889" fill="#8e2a81"/>
<rect x="1771.60" y="799.980" width="46.60" height="2.889" fill="#912b81"/>
<rect x="1771.60" y="797.091" width="46.60" height="2.889" fill="#942c80"/>
<rect x="1771.60" y="794.202" width="46.60" height="2.889" fill="#982d80"/>
<rect x="1771.60" y="791.312" width="46.60" height="2.889" fill="#9b2e7f"/>
<rect x="1771.60" y="788.423" width="46.60" height="2.889" fill="#9e2f7f"/>
<rect x="1771.60" y="785.534" width="46.60" height="2.889" fill="#a1307e"/>
<rect x="1771.60" y="782.645" width="46.60" height="2.889" fill="#a5317e"/>
<rect x="1771.60" y="779.756" width="46.60" height="2.889" fill="#a8327d"/>
<rect x="1771.60" y="776.867" width="46.60" height="2.889" fill="#ab337c"/>
<rect x="1771.60" y="773.978" width="46.60" height="2.889" fill="#ae347b"/>
<rect x="1771.60" y="771.089" width="46.60" height="2.889" fill="#b2357b"/>
<rect x="1771.60" y="768.200" width="46.60" height="2.889" fill="#b5367a"/>
<rect x="1771.60" y="765.311" width="46.60" height="2.889" fill="#b83779"/>
<rect x="1771.60" y="762.422" width="46.60" height="2.889" fill="#bc3978"/>
<rect x="1771.60" y="759.533" width="46.60" height="2.889" fill="#bf3a77"/>
<rect x="1771.60" y="756.644" width="46.60" height="2.889" fill="#c23b75"/>
<rect x="1771.60" y="753.755" width="46.60" height="2.889" fill="#c53c74"/>
<rect x="1771.60" y="750.866" width="46.60" height="2.889" fill="#c83e73"/>
<rect x="1771.60" y="747.977" width="46.60" height="2.889" fill="#cc3f71"/>
<rect x="1771.60" y="745.087" width="46.60" height="2.889" fill="#cf4070"/>
<rect x="1771.60" y="742.198" width="46.60" height="2.889" fill="#d2426f"/>
<rect x="1771.60" y="739.309" width="46.60" height="2.889" fill="#d5446d"/>
<rect x="1771.60" y="736.420" width="46.60" height="2.889" fill="#d8456c"/>
<rect x="1771.60" y="733.531" width="46.60" height="2.889" fill="#db476a"/>
<rect x="1771.60" y="730.642" width="46.60" height="2.889" fill="#de4968"/>
<rect x="1771.60" y="727.753" width="46.60" height="2.889" fill="#e04c67"/>
<rect x="1771.60" y="724.864" width="46.60" height="2.889" fill="#e34e65"/>
<rect x="1771.60" y="721.975" width="46.60" height="2.889" fill="#e55064"/>
<rect x="1771.60" y="719.086" width="46.60" height="2.889" fill="#e85362"/>
<rect x="1771.60" y="716.197" width="46.60" height="2.889" fill="#ea5661"/>
<rect x="1771.60" y="713.308" width="46.60" height="2.889" fill="#ec5860"/>
<rect x="1771.60" y="710.419" width="46.60" height="2.889" fill="#ee5b5e"/>
<rect x="1771.60" y="707.530" width="46.60" height="2.889" fill="#f05f5e"/>
<rect x="1771.60" y="704.641" width="46.60" height="2.889" fill="#f2625d"/>
<rect x="1771.60" y="701.752" width="46.60" height="2.889" fill="#f3655c"/>
<rect x="1771.60" y="698.862" width="46.60" height="2.889" fill="#f4695c"/>
<rect x="1771.60" y="695.973" width="46.60" height="2.889" fill="#f66c5c"/>
<rect x="1771.60" y="693.084" width="46.60" height="2.889" fill="#f7705c"/>
<rect x="1771.60" y="690.195" width="46.60" height="2.889" fill="#f8745c"/>
<rect x="1771.60" y="687.306" width="46.60" height="2.889" fill="#f9785d"/>
<rect x="1771.60" y="684.417" width="46.60" height="2.889" fill="#f97b5d"/>
<rect x="1771.60" y="681.528" width="46.60" height="2.889" fill="#fa7f5e"/>
<rect x="1771.60" y="678.639" width="46.60" height="2.889" fill="#fb835f"/>
<rect x="1771.60" y="675.750" width="46.60" height="2.889" fill="#fb8761"/>
<rect x="1771.60" y="672.861" width="46.60" height="2.889" fill="#fc8a62"/>
<rect x="1771.60" y="669.972" width="46.60" height="2.889" fill="#fc8e64"/>
<rect x="1771.60" y="667.083" width="46.60" height="2.889" fill="#fd9266"/>
<rect x="1771.60" y="664.194" width="46.60" height="2.889" fill="#fd9668"/>
<rect x="1771.60" y="661.305" width="46.60" height="2.889" fill="#fd9a6a"/>
<rect x="1771.60" y="658.416" width="46.60" height="2.889" fill="#fe9d6c"/>
<rect x="1771.60" y="655.527" width="46.60" height="2.889" fill="#fea16e"/>
<rect x="1771.60" y="652.638" width="46.60" height="2.889" fill="#fea571"/>
<rect x="1771.60" y="649.748" width="46.60" height="2.889" fill="#fea973"/>
<rect x="1771.60" y="646.859" width="46.60" height="2.889" fill="#feac76"/>
<rect x="1771.60" y="643.970" width="46.60" height="2.889" fill="#feb078"/>
<rect x="1771.60" y="641.081" width="46.60" height="2.889" fill="#feb47b"/>
<rect x="1771.60" y="638.192" width="46.60" height="2.889" fill="#feb77e"/>
<rect x="1771.60" y="635.303" width="46.60" height="2.889" fill="#febb81"/>
<rect x="1771.60" y="632.414" width="46.60" height="2.889" fill="#febf84"/>
<rect x="1771.60" y="629.525" width="46.60" height="2.889" fill="#fec287"/>
<rect x="1771.60" y="626.636" width="46.60" height="2.889" fill="#fec68a"/>
<rect x="1771.60" y="623.747" width="46.60" height="2.889" fill="#feca8d"/>
<rect x="1771.60" y="620.858" width="46.60" height="2.889" fill="#fecd90"/>
<rect x="1771.60" y="617.969" width="46.60" height="2.889" fill="#fed194"/>
<rect x="1771.60" y="615.080" width="46.60" height="2.889" fill="#fed597"/>
<rect x="1771.60" y="612.191" width="46.60" height="2.889" fill="#fed89a"/>
<rect x="1771.60" y="609.302" width="46.60" height="2.889" fill="#fddc9e"/>
<rect x="1771.60" y="606.412" width="46.60" height="2.889" fill="#fde0a1"/>
<rect x="1771.60" y="603.523" width="46.60" height="2.889" fill="#fde3a5"/>
<rect x="1771.60" y="600.634" width="46.60" height="2.889" fill="#fde7a9"/>
<rect x="1771.60" y="597.745" width="46.60" height="2.889" fill="#fdebac"/>
<rect x="1771.60" y="594.856" width="46.60" height="2.889" fill="#fceeb0"/>
<rect x="1771.60" y="591.967" width="46.60" height="2.889" fill="#fcf2b4"/>
<rect x="1771.60" y="589.078" width="46.60" height="2.889" fill="#fcf6b8"/>
<rect x="1771.60" y="586.189" width="46.60" height="2.889" fill="#fcf9bb"/>
<rect x="1771.60" y="583.300" width="46.60" height="2.889" fill="#fcfdbf"/>
<line x1="1771.60" y1="834.04" x2="1780.30" y2="834.04" stroke="#000" stroke-width="4.00"/>
<line x1="1809.50" y1="834.04" x2="1818.20" y2="834.04" stroke="#000" stroke-width="4.00"/>
<text class="b" style="font-size:31.40px" transform="translate(1827.90 844.27) scale(1 1.030)">0.2</text>
<line x1="1771.60" y1="701.09" x2="1780.30" y2="701.09" stroke="#000" stroke-width="4.00"/>
<line x1="1809.50" y1="701.09" x2="1818.20" y2="701.09" stroke="#000" stroke-width="4.00"/>
<text class="b" style="font-size:31.40px" transform="translate(1827.90 711.32) scale(1 1.030)">0.4</text>
<rect x="1771.60" y="583.30" width="46.60" height="369.80" fill="none" stroke="#000" stroke-width="4.00" stroke-linejoin="round"/>
</g>
<g>
<text class="t" style="font-size:36.50px" transform="translate(985.10 1041.90) scale(1 1.045)">ROUGE-L</text>
<rect x="245.60" y="1088.80" width="1479.00" height="369.80" fill="#000"/>
<rect x="247.60" y="1090.80" width="180.88" height="88.45" fill="#130d34"/>
<rect x="432.48" y="1090.80" width="180.88" height="88.45" fill="#0e0b2b"/>
<rect x="617.35" y="1090.80" width="180.88" height="88.45" fill="#51127c"/>
<rect x="802.23" y="1090.80" width="180.88" height="88.45" fill="#420f75"/>
<rect x="987.10" y="1090.80" width="180.88" height="88.45" fill="#c53c74"/>
<rect x="1171.97" y="1090.80" width="180.88" height="88.45" fill="#d2426f"/>
<rect x="1356.85" y="1090.80" width="180.88" height="88.45" fill="#d2426f"/>
<rect x="1541.72" y="1090.80" width="180.88" height="88.45" fill="#d3436e"/>
<rect x="247.60" y="1183.25" width="180.88" height="88.45" fill="#000004"/>
<rect x="432.48" y="1183.25" width="180.88" height="88.45" fill="#000004"/>
<rect x="617.35" y="1183.25" width="180.88" height="88.45" fill="#010108"/>
<rect x="802.23" y="1183.25" width="180.88" height="88.45" fill="#020109"/>
<rect x="987.10" y="1183.25" width="180.88" height="88.45" fill="#b83779"/>
<rect x="1171.97" y="1183.25" width="180.88" height="88.45" fill="#f1605d"/>
<rect x="1356.85" y="1183.25" width="180.88" height="88.45" fill="#f1605d"/>
<rect x="1541.72" y="1183.25" width="180.88" height="88.45" fill="#ef5d5e"/>
<rect x="247.60" y="1275.70" width="180.88" height="88.45" fill="#5c167f"/>
<rect x="432.48" y="1275.70" width="180.88" height="88.45" fill="#0e0b2b"/>
<rect x="617.35" y="1275.70" width="180.88" height="88.45" fill="#090720"/>
<rect x="802.23" y="1275.70" width="180.88" height="88.45" fill="#221150"/>
<rect x="987.10" y="1275.70" width="180.88" height="88.45" fill="#fed395"/>
<rect x="1171.97" y="1275.70" width="180.88" height="88.45" fill="#fcf9bb"/>
<rect x="1356.85" y="1275.70" width="180.88" height="88.45" fill="#fcfdbf"/>
<rect x="1541.72" y="1275.70" width="180.88" height="88.45" fill="#fcfdbf"/>
<rect x="247.60" y="1368.15" width="180.88" height="88.45" fill="#130d34"/>
<rect x="432.48" y="1368.15" width="180.88" height="88.45" fill="#150e38"/>
<rect x="617.35" y="1368.15" width="180.88" height="88.45" fill="#060518"/>
<rect x="802.23" y="1368.15" width="180.88" height="88.45" fill="#07061c"/>
<rect x="987.10" y="1368.15" width="180.88" height="88.45" fill="#7b2382"/>
<rect x="1171.97" y="1368.15" width="180.88" height="88.45" fill="#7c2382"/>
<rect x="1356.85" y="1368.15" width="180.88" height="88.45" fill="#7e2482"/>
<rect x="1541.72" y="1368.15" width="180.88" height="88.45" fill="#792282"/>
<rect x="245.60" y="1088.80" width="1479.00" height="369.80" fill="none" stroke="#000" stroke-width="6.00" stroke-linejoin="round"/>
<text class="c" fill="#fff" style="font-size:31.30px" transform="translate(338.04 1145.66) scale(1 1.050)">0.0943</text>
<text class="c" fill="#fff" style="font-size:31.30px" transform="translate(522.91 1145.66) scale(1 1.050)">0.0810</text>
<text class="c" fill="#fff" style="font-size:31.30px" transform="translate(707.79 1145.66) scale(1 1.050)">0.2312</text>
<text class="c" fill="#fff" style="font-size:31.30px" transform="translate(892.66 1145.66) scale(1 1.050)">0.2017</text>
<text class="c" fill="#fff" style="font-size:31.30px" transform="translate(1077.54 1145.66) scale(1 1.050)">0.4845</text>
<text class="c" fill="#000" style="font-size:31.30px" transform="translate(1262.41 1145.66) scale(1 1.050)">0.5119</text>
<text class="c" fill="#000" style="font-size:31.30px" transform="translate(1447.29 1145.66) scale(1 1.050)">0.5122</text>
<text class="c" fill="#000" style="font-size:31.30px" transform="translate(1632.16 1145.66) scale(1 1.050)">0.5149</text>
<text class="c" fill="#fff" style="font-size:31.30px" transform="translate(338.04 1238.11) scale(1 1.050)">0.0119</text>
<text class="c" fill="#fff" style="font-size:31.30px" transform="translate(522.91 1238.11) scale(1 1.050)">0.0090</text>
<text class="c" fill="#fff" style="font-size:31.30px" transform="translate(707.79 1238.11) scale(1 1.050)">0.0204</text>
<text class="c" fill="#fff" style="font-size:31.30px" transform="translate(892.66 1238.11) scale(1 1.050)">0.0245</text>
<text class="c" fill="#fff" style="font-size:31.30px" transform="translate(1077.54 1238.11) scale(1 1.050)">0.4559</text>
<text class="c" fill="#000" style="font-size:31.30px" transform="translate(1262.41 1238.11) scale(1 1.050)">0.5978</text>
<text class="c" fill="#000" style="font-size:31.30px" transform="translate(1447.29 1238.11) scale(1 1.050)">0.5978</text>
<text class="c" fill="#000" style="font-size:31.30px" transform="translate(1632.16 1238.11) scale(1 1.050)">0.5919</text>
<text class="c" fill="#fff" style="font-size:31.30px" transform="translate(338.04 1330.56) scale(1 1.050)">0.2560</text>
<text class="c" fill="#fff" style="font-size:31.30px" transform="translate(522.91 1330.56) scale(1 1.050)">0.0788</text>
<text class="c" fill="#fff" style="font-size:31.30px" transform="translate(707.79 1330.56) scale(1 1.050)">0.0629</text>
<text class="c" fill="#fff" style="font-size:31.30px" transform="translate(892.66 1330.56) scale(1 1.050)">0.1351</text>
<text class="c" fill="#000" style="font-size:31.30px" transform="translate(1077.54 1330.56) scale(1 1.050)">0.8142</text>
<text class="c" fill="#000" style="font-size:31.30px" transform="translate(1262.41 1330.56) scale(1 1.050)">0.8869</text>
<text class="c" fill="#000" style="font-size:31.30px" transform="translate(1447.29 1330.56) scale(1 1.050)">0.8931</text>
<text class="c" fill="#000" style="font-size:31.30px" transform="translate(1632.16 1330.56) scale(1 1.050)">0.8953</text>
<text class="c" fill="#fff" style="font-size:31.30px" transform="translate(338.04 1423.01) scale(1 1.050)">0.0934</text>
<text class="c" fill="#fff" style="font-size:31.30px" transform="translate(522.91 1423.01) scale(1 1.050)">0.1014</text>
<text class="c" fill="#fff" style="font-size:31.30px" transform="translate(707.79 1423.01) scale(1 1.050)">0.0504</text>
<text class="c" fill="#fff" style="font-size:31.30px" transform="translate(892.66 1423.01) scale(1 1.050)">0.0565</text>
<text class="c" fill="#fff" style="font-size:31.30px" transform="translate(1077.54 1423.01) scale(1 1.050)">0.3271</text>
<text class="c" fill="#fff" style="font-size:31.30px" transform="translate(1262.41 1423.01) scale(1 1.050)">0.3293</text>
<text class="c" fill="#fff" style="font-size:31.30px" transform="translate(1447.29 1423.01) scale(1 1.050)">0.3344</text>
<text class="c" fill="#fff" style="font-size:31.30px" transform="translate(1632.16 1423.01) scale(1 1.050)">0.3212</text>
<line x1="229.10" y1="1135.02" x2="245.60" y2="1135.02" stroke="#000" stroke-width="5.50"/>
<text class="r" style="font-size:28.60px" transform="translate(226.00 1144.75) scale(1 1.060)">Long answer</text>
<line x1="229.10" y1="1227.47" x2="245.60" y2="1227.47" stroke="#000" stroke-width="5.50"/>
<text class="r" style="font-size:28.60px" transform="translate(226.00 1237.20) scale(1 1.060)">Short answer</text>
<line x1="229.10" y1="1319.92" x2="245.60" y2="1319.92" stroke="#000" stroke-width="5.50"/>
<text class="r" style="font-size:28.60px" transform="translate(226.00 1329.65) scale(1 1.060)">Multiple choice</text>
<line x1="229.10" y1="1412.38" x2="245.60" y2="1412.38" stroke="#000" stroke-width="5.50"/>
<text class="r" style="font-size:28.60px" transform="translate(226.00 1422.10) scale(1 1.060)">Report generation</text>
<rect x="1771.60" y="1455.711" width="46.60" height="2.889" fill="#010005"/>
<rect x="1771.60" y="1452.822" width="46.60" height="2.889" fill="#010108"/>
<rect x="1771.60" y="1449.933" width="46.60" height="2.889" fill="#02020b"/>
<rect x="1771.60" y="1447.044" width="46.60" height="2.889" fill="#03030f"/>
<rect x="1771.60" y="1444.155" width="46.60" height="2.889" fill="#040414"/>
<rect x="1771.60" y="1441.266" width="46.60" height="2.889" fill="#060518"/>
<rect x="1771.60" y="1438.377" width="46.60" height="2.889" fill="#07061c"/>
<rect x="1771.60" y="1435.487" width="46.60" height="2.889" fill="#090720"/>
<rect x="1771.60" y="1432.598" width="46.60" height="2.889" fill="#0b0924"/>
<rect x="1771.60" y="1429.709" width="46.60" height="2.889" fill="#0d0a29"/>
<rect x="1771.60" y="1426.820" width="46.60" height="2.889" fill="#100b2d"/>
<rect x="1771.60" y="1423.931" width="46.60" height="2.889" fill="#120d31"/>
<rect x="1771.60" y="1421.042" width="46.60" height="2.889" fill="#140e36"/>
<rect x="1771.60" y="1418.153" width="46.60" height="2.889" fill="#160f3b"/>
<rect x="1771.60" y="1415.264" width="46.60" height="2.889" fill="#19103f"/>
<rect x="1771.60" y="1412.375" width="46.60" height="2.889" fill="#1c1044"/>
<rect x="1771.60" y="1409.486" width="46.60" height="2.889" fill="#1e1149"/>
<rect x="1771.60" y="1406.597" width="46.60" height="2.889" fill="#21114e"/>
<rect x="1771.60" y="1403.708" width="46.60" height="2.889" fill="#241253"/>
<rect x="1771.60" y="1400.819" width="46.60" height="2.889" fill="#271258"/>
<rect x="1771.60" y="1397.930" width="46.60" height="2.889" fill="#2a115c"/>
<rect x="1771.60" y="1395.041" width="46.60" height="2.889" fill="#2d1161"/>
<rect x="1771.60" y="1392.152" width="46.60" height="2.889" fill="#311165"/>
<rect x="1771.60" y="1389.262" width="46.60" height="2.889" fill="#341069"/>
<rect x="1771.60" y="1386.373" width="46.60" height="2.889" fill="#38106c"/>
<rect x="1771.60" y="1383.484" width="46.60" height="2.889" fill="#3b0f70"/>
<rect x="1771.60" y="1380.595" width="46.60" height="2.889" fill="#3f0f72"/>
<rect x="1771.60" y="1377.706" width="46.60" height="2.889" fill="#420f75"/>
<rect x="1771.60" y="1374.817" width="46.60" height="2.889" fill="#451077"/>
<rect x="1771.60" y="1371.928" width="46.60" height="2.889" fill="#491078"/>
<rect x="1771.60" y="1369.039" width="46.60" height="2.889" fill="#4c117a"/>
<rect x="1771.60" y="1366.150" width="46.60" height="2.889" fill="#4f127b"/>
<rect x="1771.60" y="1363.261" width="46.60" height="2.889" fill="#52137c"/>
<rect x="1771.60" y="1360.372" width="46.60" height="2.889" fill="#56147d"/>
<rect x="1771.60" y="1357.483" width="46.60" height="2.889" fill="#59157e"/>
<rect x="1771.60" y="1354.594" width="46.60" height="2.889" fill="#5c167f"/>
<rect x="1771.60" y="1351.705" width="46.60" height="2.889" fill="#5f187f"/>
<rect x="1771.60" y="1348.816" width="46.60" height="2.889" fill="#621980"/>
<rect x="1771.60" y="1345.927" width="46.60" height="2.889" fill="#651a80"/>
<rect x="1771.60" y="1343.037" width="46.60" height="2.889" fill="#681c81"/>
<rect x="1771.60" y="1340.148" width="46.60" height="2.889" fill="#6b1d81"/>
<rect x="1771.60" y="1337.259" width="46.60" height="2.889" fill="#6e1e81"/>
<rect x="1771.60" y="1334.370" width="46.60" height="2.889" fill="#721f81"/>
<rect x="1771.60" y="1331.481" width="46.60" height="2.889" fill="#752181"/>
<rect x="1771.60" y="1328.592" width="46.60" height="2.889" fill="#782281"/>
<rect x="1771.60" y="1325.703" width="46.60" height="2.889" fill="#7b2382"/>
<rect x="1771.60" y="1322.814" width="46.60" height="2.889" fill="#7e2482"/>
<rect x="1771.60" y="1319.925" width="46.60" height="2.889" fill="#812581"/>
<rect x="1771.60" y="1317.036" width="46.60" height="2.889" fill="#842681"/>
<rect x="1771.60" y="1314.147" width="46.60" height="2.889" fill="#882781"/>
<rect x="1771.60" y="1311.258" width="46.60" height="2.889" fill="#8b2981"/>
<rect x="1771.60" y="1308.369" width="46.60" height="2.889" fill="#8e2a81"/>
<rect x="1771.60" y="1305.480" width="46.60" height="2.889" fill="#912b81"/>
<rect x="1771.60" y="1302.591" width="46.60" height="2.889" fill="#942c80"/>
<rect x="1771.60" y="1299.702" width="46.60" height="2.889" fill="#982d80"/>
<rect x="1771.60" y="1296.812" width="46.60" height="2.889" fill="#9b2e7f"/>
<rect x="1771.60" y="1293.923" width="46.60" height="2.889" fill="#9e2f7f"/>
<rect x="1771.60" y="1291.034" width="46.60" height="2.889" fill="#a1307e"/>
<rect x="1771.60" y="1288.145" width="46.60" height="2.889" fill="#a5317e"/>
<rect x="1771.60" y="1285.256" width="46.60" height="2.889" fill="#a8327d"/>
<rect x="1771.60" y="1282.367" width="46.60" height="2.889" fill="#ab337c"/>
<rect x="1771.60" y="1279.478" width="46.60" height="2.889" fill="#ae347b"/>
<rect x="1771.60" y="1276.589" width="46.60" height="2.889" fill="#b2357b"/>
<rect x="1771.60" y="1273.700" width="46.60" height="2.889" fill="#b5367a"/>
<rect x="1771.60" y="1270.811" width="46.60" height="2.889" fill="#b83779"/>
<rect x="1771.60" y="1267.922" width="46.60" height="2.889" fill="#bc3978"/>
<rect x="1771.60" y="1265.033" width="46.60" height="2.889" fill="#bf3a77"/>
<rect x="1771.60" y="1262.144" width="46.60" height="2.889" fill="#c23b75"/>
<rect x="1771.60" y="1259.255" width="46.60" height="2.889" fill="#c53c74"/>
<rect x="1771.60" y="1256.366" width="46.60" height="2.889" fill="#c83e73"/>
<rect x="1771.60" y="1253.477" width="46.60" height="2.889" fill="#cc3f71"/>
<rect x="1771.60" y="1250.587" width="46.60" height="2.889" fill="#cf4070"/>
<rect x="1771.60" y="1247.698" width="46.60" height="2.889" fill="#d2426f"/>
<rect x="1771.60" y="1244.809" width="46.60" height="2.889" fill="#d5446d"/>
<rect x="1771.60" y="1241.920" width="46.60" height="2.889" fill="#d8456c"/>
<rect x="1771.60" y="1239.031" width="46.60" height="2.889" fill="#db476a"/>
<rect x="1771.60" y="1236.142" width="46.60" height="2.889" fill="#de4968"/>
<rect x="1771.60" y="1233.253" width="46.60" height="2.889" fill="#e04c67"/>
<rect x="1771.60" y="1230.364" width="46.60" height="2.889" fill="#e34e65"/>
<rect x="1771.60" y="1227.475" width="46.60" height="2.889" fill="#e55064"/>
<rect x="1771.60" y="1224.586" width="46.60" height="2.889" fill="#e85362"/>
<rect x="1771.60" y="1221.697" width="46.60" height="2.889" fill="#ea5661"/>
<rect x="1771.60" y="1218.808" width="46.60" height="2.889" fill="#ec5860"/>
<rect x="1771.60" y="1215.919" width="46.60" height="2.889" fill="#ee5b5e"/>
<rect x="1771.60" y="1213.030" width="46.60" height="2.889" fill="#f05f5e"/>
<rect x="1771.60" y="1210.141" width="46.60" height="2.889" fill="#f2625d"/>
<rect x="1771.60" y="1207.252" width="46.60" height="2.889" fill="#f3655c"/>
<rect x="1771.60" y="1204.362" width="46.60" height="2.889" fill="#f4695c"/>
<rect x="1771.60" y="1201.473" width="46.60" height="2.889" fill="#f66c5c"/>
<rect x="1771.60" y="1198.584" width="46.60" height="2.889" fill="#f7705c"/>
<rect x="1771.60" y="1195.695" width="46.60" height="2.889" fill="#f8745c"/>
<rect x="1771.60" y="1192.806" width="46.60" height="2.889" fill="#f9785d"/>
<rect x="1771.60" y="1189.917" width="46.60" height="2.889" fill="#f97b5d"/>
<rect x="1771.60" y="1187.028" width="46.60" height="2.889" fill="#fa7f5e"/>
<rect x="1771.60" y="1184.139" width="46.60" height="2.889" fill="#fb835f"/>
<rect x="1771.60" y="1181.250" width="46.60" height="2.889" fill="#fb8761"/>
<rect x="1771.60" y="1178.361" width="46.60" height="2.889" fill="#fc8a62"/>
<rect x="1771.60" y="1175.472" width="46.60" height="2.889" fill="#fc8e64"/>
<rect x="1771.60" y="1172.583" width="46.60" height="2.889" fill="#fd9266"/>
<rect x="1771.60" y="1169.694" width="46.60" height="2.889" fill="#fd9668"/>
<rect x="1771.60" y="1166.805" width="46.60" height="2.889" fill="#fd9a6a"/>
<rect x="1771.60" y="1163.916" width="46.60" height="2.889" fill="#fe9d6c"/>
<rect x="1771.60" y="1161.027" width="46.60" height="2.889" fill="#fea16e"/>
<rect x="1771.60" y="1158.137" width="46.60" height="2.889" fill="#fea571"/>
<rect x="1771.60" y="1155.248" width="46.60" height="2.889" fill="#fea973"/>
<rect x="1771.60" y="1152.359" width="46.60" height="2.889" fill="#feac76"/>
<rect x="1771.60" y="1149.470" width="46.60" height="2.889" fill="#feb078"/>
<rect x="1771.60" y="1146.581" width="46.60" height="2.889" fill="#feb47b"/>
<rect x="1771.60" y="1143.692" width="46.60" height="2.889" fill="#feb77e"/>
<rect x="1771.60" y="1140.803" width="46.60" height="2.889" fill="#febb81"/>
<rect x="1771.60" y="1137.914" width="46.60" height="2.889" fill="#febf84"/>
<rect x="1771.60" y="1135.025" width="46.60" height="2.889" fill="#fec287"/>
<rect x="1771.60" y="1132.136" width="46.60" height="2.889" fill="#fec68a"/>
<rect x="1771.60" y="1129.247" width="46.60" height="2.889" fill="#feca8d"/>
<rect x="1771.60" y="1126.358" width="46.60" height="2.889" fill="#fecd90"/>
<rect x="1771.60" y="1123.469" width="46.60" height="2.889" fill="#fed194"/>
<rect x="1771.60" y="1120.580" width="46.60" height="2.889" fill="#fed597"/>
<rect x="1771.60" y="1117.691" width="46.60" height="2.889" fill="#fed89a"/>
<rect x="1771.60" y="1114.802" width="46.60" height="2.889" fill="#fddc9e"/>
<rect x="1771.60" y="1111.912" width="46.60" height="2.889" fill="#fde0a1"/>
<rect x="1771.60" y="1109.023" width="46.60" height="2.889" fill="#fde3a5"/>
<rect x="1771.60" y="1106.134" width="46.60" height="2.889" fill="#fde7a9"/>
<rect x="1771.60" y="1103.245" width="46.60" height="2.889" fill="#fdebac"/>
<rect x="1771.60" y="1100.356" width="46.60" height="2.889" fill="#fceeb0"/>
<rect x="1771.60" y="1097.467" width="46.60" height="2.889" fill="#fcf2b4"/>
<rect x="1771.60" y="1094.578" width="46.60" height="2.889" fill="#fcf6b8"/>
<rect x="1771.60" y="1091.689" width="46.60" height="2.889" fill="#fcf9bb"/>
<rect x="1771.60" y="1088.800" width="46.60" height="2.889" fill="#fcfdbf"/>
<line x1="1771.60" y1="1378.91" x2="1780.30" y2="1378.91" stroke="#000" stroke-width="4.00"/>
<line x1="1809.50" y1="1378.91" x2="1818.20" y2="1378.91" stroke="#000" stroke-width="4.00"/>
<text class="b" style="font-size:31.40px" transform="translate(1827.90 1389.13) scale(1 1.030)">0.2</text>
<line x1="1771.60" y1="1295.46" x2="1780.30" y2="1295.46" stroke="#000" stroke-width="4.00"/>
<line x1="1809.50" y1="1295.46" x2="1818.20" y2="1295.46" stroke="#000" stroke-width="4.00"/>
<text class="b" style="font-size:31.40px" transform="translate(1827.90 1305.68) scale(1 1.030)">0.4</text>
<line x1="1771.60" y1="1212.01" x2="1780.30" y2="1212.01" stroke="#000" stroke-width="4.00"/>
<line x1="1809.50" y1="1212.01" x2="1818.20" y2="1212.01" stroke="#000" stroke-width="4.00"/>
<text class="b" style="font-size:31.40px" transform="translate(1827.90 1222.24) scale(1 1.030)">0.6</text>
<line x1="1771.60" y1="1128.56" x2="1780.30" y2="1128.56" stroke="#000" stroke-width="4.00"/>
<line x1="1809.50" y1="1128.56" x2="1818.20" y2="1128.56" stroke="#000" stroke-width="4.00"/>
<text class="b" style="font-size:31.40px" transform="translate(1827.90 1138.79) scale(1 1.030)">0.8</text>
<rect x="1771.60" y="1088.80" width="46.60" height="369.80" fill="none" stroke="#000" stroke-width="4.00" stroke-linejoin="round"/>
</g>
<g>
<text class="t" style="font-size:36.50px" transform="translate(985.10 1544.40) scale(1 1.045)">CIDEr</text>
<rect x="245.60" y="1591.30" width="1479.00" height="370.00" fill="#000"/>
<rect x="247.60" y="1593.30" width="180.88" height="88.50" fill="#000004"/>
<rect x="432.48" y="1593.30" width="180.88" height="88.50" fill="#000004"/>
<rect x="617.35" y="1593.30" width="180.88" height="88.50" fill="#0c0926"/>
<rect x="802.23" y="1593.30" width="180.88" height="88.50" fill="#050416"/>
<rect x="987.10" y="1593.30" width="180.88" height="88.50" fill="#862781"/>
<rect x="1171.97" y="1593.30" width="180.88" height="88.50" fill="#892881"/>
<rect x="1356.85" y="1593.30" width="180.88" height="88.50" fill="#8b2981"/>
<rect x="1541.72" y="1593.30" width="180.88" height="88.50" fill="#8b2981"/>
<rect x="247.60" y="1685.80" width="180.88" height="88.50" fill="#000004"/>
<rect x="432.48" y="1685.80" width="180.88" height="88.50" fill="#000004"/>
<rect x="617.35" y="1685.80" width="180.88" height="88.50" fill="#000004"/>
<rect x="802.23" y="1685.80" width="180.88" height="88.50" fill="#000004"/>
<rect x="987.10" y="1685.80" width="180.88" height="88.50" fill="#4a1079"/>
<rect x="1171.97" y="1685.80" width="180.88" height="88.50" fill="#4a1079"/>
<rect x="1356.85" y="1685.80" width="180.88" height="88.50" fill="#4a1079"/>
<rect x="1541.72" y="1685.80" width="180.88" height="88.50" fill="#491078"/>
<rect x="247.60" y="1778.30" width="180.88" height="88.50" fill="#5c167f"/>
<rect x="432.48" y="1778.30" width="180.88" height="88.50" fill="#000004"/>
<rect x="617.35" y="1778.30" width="180.88" height="88.50" fill="#010106"/>
<rect x="802.23" y="1778.30" width="180.88" height="88.50" fill="#020109"/>
<rect x="987.10" y="1778.30" width="180.88" height="88.50" fill="#fcfbbd"/>
<rect x="1171.97" y="1778.30" width="180.88" height="88.50" fill="#fcf9bb"/>
<rect x="1356.85" y="1778.30" width="180.88" height="88.50" fill="#fcfdbf"/>
<rect x="1541.72" y="1778.30" width="180.88" height="88.50" fill="#fcfdbf"/>
<rect x="247.60" y="1870.80" width="180.88" height="88.50" fill="#000004"/>
<rect x="432.48" y="1870.80" width="180.88" height="88.50" fill="#000004"/>
<rect x="617.35" y="1870.80" width="180.88" height="88.50" fill="#000004"/>
<rect x="802.23" y="1870.80" width="180.88" height="88.50" fill="#000004"/>
<rect x="987.10" y="1870.80" width="180.88" height="88.50" fill="#03030f"/>
<rect x="1171.97" y="1870.80" width="180.88" height="88.50" fill="#030312"/>
<rect x="1356.85" y="1870.80" width="180.88" height="88.50" fill="#030312"/>
<rect x="1541.72" y="1870.80" width="180.88" height="88.50" fill="#03030f"/>
<rect x="245.60" y="1591.30" width="1479.00" height="370.00" fill="none" stroke="#000" stroke-width="6.00" stroke-linejoin="round"/>
<text class="c" fill="#fff" style="font-size:31.30px" transform="translate(338.04 1648.18) scale(1 1.050)">0.0044</text>
<text class="c" fill="#fff" style="font-size:31.30px" transform="translate(522.91 1648.18) scale(1 1.050)">0.0015</text>
<text class="c" fill="#fff" style="font-size:31.30px" transform="translate(707.79 1648.18) scale(1 1.050)">0.5772</text>
<text class="c" fill="#fff" style="font-size:31.30px" transform="translate(892.66 1648.18) scale(1 1.050)">0.3146</text>
<text class="c" fill="#fff" style="font-size:31.30px" transform="translate(1077.54 1648.18) scale(1 1.050)">3.0240</text>
<text class="c" fill="#fff" style="font-size:31.30px" transform="translate(1262.41 1648.18) scale(1 1.050)">3.0902</text>
<text class="c" fill="#fff" style="font-size:31.30px" transform="translate(1447.29 1648.18) scale(1 1.050)">3.1008</text>
<text class="c" fill="#fff" style="font-size:31.30px" transform="translate(1632.16 1648.18) scale(1 1.050)">3.1262</text>
<text class="c" fill="#fff" style="font-size:31.30px" transform="translate(338.04 1740.68) scale(1 1.050)">0.0012</text>
<text class="c" fill="#fff" style="font-size:31.30px" transform="translate(522.91 1740.68) scale(1 1.050)">0.0002</text>
<text class="c" fill="#fff" style="font-size:31.30px" transform="translate(707.79 1740.68) scale(1 1.050)">0.0089</text>
<text class="c" fill="#fff" style="font-size:31.30px" transform="translate(892.66 1740.68) scale(1 1.050)">0.0071</text>
<text class="c" fill="#fff" style="font-size:31.30px" transform="translate(1077.54 1740.68) scale(1 1.050)">1.8417</text>
<text class="c" fill="#fff" style="font-size:31.30px" transform="translate(1262.41 1740.68) scale(1 1.050)">1.8459</text>
<text class="c" fill="#fff" style="font-size:31.30px" transform="translate(1447.29 1740.68) scale(1 1.050)">1.8503</text>
<text class="c" fill="#fff" style="font-size:31.30px" transform="translate(1632.16 1740.68) scale(1 1.050)">1.8210</text>
<text class="c" fill="#fff" style="font-size:31.30px" transform="translate(338.04 1833.18) scale(1 1.050)">2.1783</text>
<text class="c" fill="#fff" style="font-size:31.30px" transform="translate(522.91 1833.18) scale(1 1.050)">0.0204</text>
<text class="c" fill="#fff" style="font-size:31.30px" transform="translate(707.79 1833.18) scale(1 1.050)">0.0653</text>
<text class="c" fill="#fff" style="font-size:31.30px" transform="translate(892.66 1833.18) scale(1 1.050)">0.1511</text>
<text class="c" fill="#000" style="font-size:31.30px" transform="translate(1077.54 1833.18) scale(1 1.050)">7.8129</text>
<text class="c" fill="#000" style="font-size:31.30px" transform="translate(1262.41 1833.18) scale(1 1.050)">7.7800</text>
<text class="c" fill="#000" style="font-size:31.30px" transform="translate(1447.29 1833.18) scale(1 1.050)">7.8359</text>
<text class="c" fill="#000" style="font-size:31.30px" transform="translate(1632.16 1833.18) scale(1 1.050)">7.8533</text>
<text class="c" fill="#fff" style="font-size:31.30px" transform="translate(338.04 1925.68) scale(1 1.050)">0.0011</text>
<text class="c" fill="#fff" style="font-size:31.30px" transform="translate(522.91 1925.68) scale(1 1.050)">0.0014</text>
<text class="c" fill="#fff" style="font-size:31.30px" transform="translate(707.79 1925.68) scale(1 1.050)">0.0001</text>
<text class="c" fill="#fff" style="font-size:31.30px" transform="translate(892.66 1925.68) scale(1 1.050)">0.0001</text>
<text class="c" fill="#fff" style="font-size:31.30px" transform="translate(1077.54 1925.68) scale(1 1.050)">0.2377</text>
<text class="c" fill="#fff" style="font-size:31.30px" transform="translate(1262.41 1925.68) scale(1 1.050)">0.2503</text>
<text class="c" fill="#fff" style="font-size:31.30px" transform="translate(1447.29 1925.68) scale(1 1.050)">0.2633</text>
<text class="c" fill="#fff" style="font-size:31.30px" transform="translate(1632.16 1925.68) scale(1 1.050)">0.2205</text>
<line x1="229.10" y1="1637.55" x2="245.60" y2="1637.55" stroke="#000" stroke-width="5.50"/>
<text class="r" style="font-size:28.60px" transform="translate(226.00 1647.28) scale(1 1.060)">Long answer</text>
<line x1="229.10" y1="1730.05" x2="245.60" y2="1730.05" stroke="#000" stroke-width="5.50"/>
<text class="r" style="font-size:28.60px" transform="translate(226.00 1739.78) scale(1 1.060)">Short answer</text>
<line x1="229.10" y1="1822.55" x2="245.60" y2="1822.55" stroke="#000" stroke-width="5.50"/>
<text class="r" style="font-size:28.60px" transform="translate(226.00 1832.28) scale(1 1.060)">Multiple choice</text>
<line x1="229.10" y1="1915.05" x2="245.60" y2="1915.05" stroke="#000" stroke-width="5.50"/>
<text class="r" style="font-size:28.60px" transform="translate(226.00 1924.78) scale(1 1.060)">Report generation</text>
<rect x="1771.60" y="1958.409" width="46.60" height="2.891" fill="#010005"/>
<rect x="1771.60" y="1955.519" width="46.60" height="2.891" fill="#010108"/>
<rect x="1771.60" y="1952.628" width="46.60" height="2.891" fill="#02020b"/>
<rect x="1771.60" y="1949.737" width="46.60" height="2.891" fill="#03030f"/>
<rect x="1771.60" y="1946.847" width="46.60" height="2.891" fill="#040414"/>
<rect x="1771.60" y="1943.956" width="46.60" height="2.891" fill="#060518"/>
<rect x="1771.60" y="1941.066" width="46.60" height="2.891" fill="#07061c"/>
<rect x="1771.60" y="1938.175" width="46.60" height="2.891" fill="#090720"/>
<rect x="1771.60" y="1935.284" width="46.60" height="2.891" fill="#0b0924"/>
<rect x="1771.60" y="1932.394" width="46.60" height="2.891" fill="#0d0a29"/>
<rect x="1771.60" y="1929.503" width="46.60" height="2.891" fill="#100b2d"/>
<rect x="1771.60" y="1926.612" width="46.60" height="2.891" fill="#120d31"/>
<rect x="1771.60" y="1923.722" width="46.60" height="2.891" fill="#140e36"/>
<rect x="1771.60" y="1920.831" width="46.60" height="2.891" fill="#160f3b"/>
<rect x="1771.60" y="1917.941" width="46.60" height="2.891" fill="#19103f"/>
<rect x="1771.60" y="1915.050" width="46.60" height="2.891" fill="#1c1044"/>
<rect x="1771.60" y="1912.159" width="46.60" height="2.891" fill="#1e1149"/>
<rect x="1771.60" y="1909.269" width="46.60" height="2.891" fill="#21114e"/>
<rect x="1771.60" y="1906.378" width="46.60" height="2.891" fill="#241253"/>
<rect x="1771.60" y="1903.487" width="46.60" height="2.891" fill="#271258"/>
<rect x="1771.60" y="1900.597" width="46.60" height="2.891" fill="#2a115c"/>
<rect x="1771.60" y="1897.706" width="46.60" height="2.891" fill="#2d1161"/>
<rect x="1771.60" y="1894.816" width="46.60" height="2.891" fill="#311165"/>
<rect x="1771.60" y="1891.925" width="46.60" height="2.891" fill="#341069"/>
<rect x="1771.60" y="1889.034" width="46.60" height="2.891" fill="#38106c"/>
<rect x="1771.60" y="1886.144" width="46.60" height="2.891" fill="#3b0f70"/>
<rect x="1771.60" y="1883.253" width="46.60" height="2.891" fill="#3f0f72"/>
<rect x="1771.60" y="1880.362" width="46.60" height="2.891" fill="#420f75"/>
<rect x="1771.60" y="1877.472" width="46.60" height="2.891" fill="#451077"/>
<rect x="1771.60" y="1874.581" width="46.60" height="2.891" fill="#491078"/>
<rect x="1771.60" y="1871.691" width="46.60" height="2.891" fill="#4c117a"/>
<rect x="1771.60" y="1868.800" width="46.60" height="2.891" fill="#4f127b"/>
<rect x="1771.60" y="1865.909" width="46.60" height="2.891" fill="#52137c"/>
<rect x="1771.60" y="1863.019" width="46.60" height="2.891" fill="#56147d"/>
<rect x="1771.60" y="1860.128" width="46.60" height="2.891" fill="#59157e"/>
<rect x="1771.60" y="1857.237" width="46.60" height="2.891" fill="#5c167f"/>
<rect x="1771.60" y="1854.347" width="46.60" height="2.891" fill="#5f187f"/>
<rect x="1771.60" y="1851.456" width="46.60" height="2.891" fill="#621980"/>
<rect x="1771.60" y="1848.566" width="46.60" height="2.891" fill="#651a80"/>
<rect x="1771.60" y="1845.675" width="46.60" height="2.891" fill="#681c81"/>
<rect x="1771.60" y="1842.784" width="46.60" height="2.891" fill="#6b1d81"/>
<rect x="1771.60" y="1839.894" width="46.60" height="2.891" fill="#6e1e81"/>
<rect x="1771.60" y="1837.003" width="46.60" height="2.891" fill="#721f81"/>
<rect x="1771.60" y="1834.112" width="46.60" height="2.891" fill="#752181"/>
<rect x="1771.60" y="1831.222" width="46.60" height="2.891" fill="#782281"/>
<rect x="1771.60" y="1828.331" width="46.60" height="2.891" fill="#7b2382"/>
<rect x="1771.60" y="1825.441" width="46.60" height="2.891" fill="#7e2482"/>
<rect x="1771.60" y="1822.550" width="46.60" height="2.891" fill="#812581"/>
<rect x="1771.60" y="1819.659" width="46.60" height="2.891" fill="#842681"/>
<rect x="1771.60" y="1816.769" width="46.60" height="2.891" fill="#882781"/>
<rect x="1771.60" y="1813.878" width="46.60" height="2.891" fill="#8b2981"/>
<rect x="1771.60" y="1810.987" width="46.60" height="2.891" fill="#8e2a81"/>
<rect x="1771.60" y="1808.097" width="46.60" height="2.891" fill="#912b81"/>
<rect x="1771.60" y="1805.206" width="46.60" height="2.891" fill="#942c80"/>
<rect x="1771.60" y="1802.316" width="46.60" height="2.891" fill="#982d80"/>
<rect x="1771.60" y="1799.425" width="46.60" height="2.891" fill="#9b2e7f"/>
<rect x="1771.60" y="1796.534" width="46.60" height="2.891" fill="#9e2f7f"/>
<rect x="1771.60" y="1793.644" width="46.60" height="2.891" fill="#a1307e"/>
<rect x="1771.60" y="1790.753" width="46.60" height="2.891" fill="#a5317e"/>
<rect x="1771.60" y="1787.862" width="46.60" height="2.891" fill="#a8327d"/>
<rect x="1771.60" y="1784.972" width="46.60" height="2.891" fill="#ab337c"/>
<rect x="1771.60" y="1782.081" width="46.60" height="2.891" fill="#ae347b"/>
<rect x="1771.60" y="1779.191" width="46.60" height="2.891" fill="#b2357b"/>
<rect x="1771.60" y="1776.300" width="46.60" height="2.891" fill="#b5367a"/>
<rect x="1771.60" y="1773.409" width="46.60" height="2.891" fill="#b83779"/>
<rect x="1771.60" y="1770.519" width="46.60" height="2.891" fill="#bc3978"/>
<rect x="1771.60" y="1767.628" width="46.60" height="2.891" fill="#bf3a77"/>
<rect x="1771.60" y="1764.737" width="46.60" height="2.891" fill="#c23b75"/>
<rect x="1771.60" y="1761.847" width="46.60" height="2.891" fill="#c53c74"/>
<rect x="1771.60" y="1758.956" width="46.60" height="2.891" fill="#c83e73"/>
<rect x="1771.60" y="1756.066" width="46.60" height="2.891" fill="#cc3f71"/>
<rect x="1771.60" y="1753.175" width="46.60" height="2.891" fill="#cf4070"/>
<rect x="1771.60" y="1750.284" width="46.60" height="2.891" fill="#d2426f"/>
<rect x="1771.60" y="1747.394" width="46.60" height="2.891" fill="#d5446d"/>
<rect x="1771.60" y="1744.503" width="46.60" height="2.891" fill="#d8456c"/>
<rect x="1771.60" y="1741.612" width="46.60" height="2.891" fill="#db476a"/>
<rect x="1771.60" y="1738.722" width="46.60" height="2.891" fill="#de4968"/>
<rect x="1771.60" y="1735.831" width="46.60" height="2.891" fill="#e04c67"/>
<rect x="1771.60" y="1732.941" width="46.60" height="2.891" fill="#e34e65"/>
<rect x="1771.60" y="1730.050" width="46.60" height="2.891" fill="#e55064"/>
<rect x="1771.60" y="1727.159" width="46.60" height="2.891" fill="#e85362"/>
<rect x="1771.60" y="1724.269" width="46.60" height="2.891" fill="#ea5661"/>
<rect x="1771.60" y="1721.378" width="46.60" height="2.891" fill="#ec5860"/>
<rect x="1771.60" y="1718.487" width="46.60" height="2.891" fill="#ee5b5e"/>
<rect x="1771.60" y="1715.597" width="46.60" height="2.891" fill="#f05f5e"/>
<rect x="1771.60" y="1712.706" width="46.60" height="2.891" fill="#f2625d"/>
<rect x="1771.60" y="1709.816" width="46.60" height="2.891" fill="#f3655c"/>
<rect x="1771.60" y="1706.925" width="46.60" height="2.891" fill="#f4695c"/>
<rect x="1771.60" y="1704.034" width="46.60" height="2.891" fill="#f66c5c"/>
<rect x="1771.60" y="1701.144" width="46.60" height="2.891" fill="#f7705c"/>
<rect x="1771.60" y="1698.253" width="46.60" height="2.891" fill="#f8745c"/>
<rect x="1771.60" y="1695.362" width="46.60" height="2.891" fill="#f9785d"/>
<rect x="1771.60" y="1692.472" width="46.60" height="2.891" fill="#f97b5d"/>
<rect x="1771.60" y="1689.581" width="46.60" height="2.891" fill="#fa7f5e"/>
<rect x="1771.60" y="1686.691" width="46.60" height="2.891" fill="#fb835f"/>
<rect x="1771.60" y="1683.800" width="46.60" height="2.891" fill="#fb8761"/>
<rect x="1771.60" y="1680.909" width="46.60" height="2.891" fill="#fc8a62"/>
<rect x="1771.60" y="1678.019" width="46.60" height="2.891" fill="#fc8e64"/>
<rect x="1771.60" y="1675.128" width="46.60" height="2.891" fill="#fd9266"/>
<rect x="1771.60" y="1672.237" width="46.60" height="2.891" fill="#fd9668"/>
<rect x="1771.60" y="1669.347" width="46.60" height="2.891" fill="#fd9a6a"/>
<rect x="1771.60" y="1666.456" width="46.60" height="2.891" fill="#fe9d6c"/>
<rect x="1771.60" y="1663.566" width="46.60" height="2.891" fill="#fea16e"/>
<rect x="1771.60" y="1660.675" width="46.60" height="2.891" fill="#fea571"/>
<rect x="1771.60" y="1657.784" width="46.60" height="2.891" fill="#fea973"/>
<rect x="1771.60" y="1654.894" width="46.60" height="2.891" fill="#feac76"/>
<rect x="1771.60" y="1652.003" width="46.60" height="2.891" fill="#feb078"/>
<rect x="1771.60" y="1649.112" width="46.60" height="2.891" fill="#feb47b"/>
<rect x="1771.60" y="1646.222" width="46.60" height="2.891" fill="#feb77e"/>
<rect x="1771.60" y="1643.331" width="46.60" height="2.891" fill="#febb81"/>
<rect x="1771.60" y="1640.441" width="46.60" height="2.891" fill="#febf84"/>
<rect x="1771.60" y="1637.550" width="46.60" height="2.891" fill="#fec287"/>
<rect x="1771.60" y="1634.659" width="46.60" height="2.891" fill="#fec68a"/>
<rect x="1771.60" y="1631.769" width="46.60" height="2.891" fill="#feca8d"/>
<rect x="1771.60" y="1628.878" width="46.60" height="2.891" fill="#fecd90"/>
<rect x="1771.60" y="1625.987" width="46.60" height="2.891" fill="#fed194"/>
<rect x="1771.60" y="1623.097" width="46.60" height="2.891" fill="#fed597"/>
<rect x="1771.60" y="1620.206" width="46.60" height="2.891" fill="#fed89a"/>
<rect x="1771.60" y="1617.316" width="46.60" height="2.891" fill="#fddc9e"/>
<rect x="1771.60" y="1614.425" width="46.60" height="2.891" fill="#fde0a1"/>
<rect x="1771.60" y="1611.534" width="46.60" height="2.891" fill="#fde3a5"/>
<rect x="1771.60" y="1608.644" width="46.60" height="2.891" fill="#fde7a9"/>
<rect x="1771.60" y="1605.753" width="46.60" height="2.891" fill="#fdebac"/>
<rect x="1771.60" y="1602.862" width="46.60" height="2.891" fill="#fceeb0"/>
<rect x="1771.60" y="1599.972" width="46.60" height="2.891" fill="#fcf2b4"/>
<rect x="1771.60" y="1597.081" width="46.60" height="2.891" fill="#fcf6b8"/>
<rect x="1771.60" y="1594.191" width="46.60" height="2.891" fill="#fcf9bb"/>
<rect x="1771.60" y="1591.300" width="46.60" height="2.891" fill="#fcfdbf"/>
<line x1="1771.60" y1="1867.08" x2="1780.30" y2="1867.08" stroke="#000" stroke-width="4.00"/>
<line x1="1809.50" y1="1867.08" x2="1818.20" y2="1867.08" stroke="#000" stroke-width="4.00"/>
<text class="b" style="font-size:31.40px" transform="translate(1827.90 1877.30) scale(1 1.030)">2</text>
<line x1="1771.60" y1="1772.85" x2="1780.30" y2="1772.85" stroke="#000" stroke-width="4.00"/>
<line x1="1809.50" y1="1772.85" x2="1818.20" y2="1772.85" stroke="#000" stroke-width="4.00"/>
<text class="b" style="font-size:31.40px" transform="translate(1827.90 1783.07) scale(1 1.030)">4</text>
<line x1="1771.60" y1="1678.62" x2="1780.30" y2="1678.62" stroke="#000" stroke-width="4.00"/>
<line x1="1809.50" y1="1678.62" x2="1818.20" y2="1678.62" stroke="#000" stroke-width="4.00"/>
<text class="b" style="font-size:31.40px" transform="translate(1827.90 1688.84) scale(1 1.030)">6</text>
<rect x="1771.60" y="1591.30" width="46.60" height="370.00" fill="none" stroke="#000" stroke-width="4.00" stroke-linejoin="round"/>
</g>
<g>
<text class="t" style="font-size:35.84px" transform="translate(1000.00 2037.90) scale(1 1.045)">Llama Score</text>
<rect x="273.60" y="2084.90" width="1452.80" height="362.80" fill="#000"/>
<rect x="275.56" y="2086.86" width="177.67" height="86.77" fill="#7c2382"/>
<rect x="457.16" y="2086.86" width="177.67" height="86.77" fill="#7b2382"/>
<rect x="638.76" y="2086.86" width="177.67" height="86.77" fill="#bc3978"/>
<rect x="820.36" y="2086.86" width="177.67" height="86.77" fill="#cd4071"/>
<rect x="1001.96" y="2086.86" width="177.67" height="86.77" fill="#feb27a"/>
<rect x="1183.56" y="2086.86" width="177.67" height="86.77" fill="#feb47b"/>
<rect x="1365.16" y="2086.86" width="177.67" height="86.77" fill="#feb77e"/>
<rect x="1546.76" y="2086.86" width="177.67" height="86.77" fill="#feb77e"/>
<rect x="275.56" y="2177.56" width="177.67" height="86.77" fill="#491078"/>
<rect x="457.16" y="2177.56" width="177.67" height="86.77" fill="#390f6e"/>
<rect x="638.76" y="2177.56" width="177.67" height="86.77" fill="#992d80"/>
<rect x="820.36" y="2177.56" width="177.67" height="86.77" fill="#7e2482"/>
<rect x="1001.96" y="2177.56" width="177.67" height="86.77" fill="#fd9a6a"/>
<rect x="1183.56" y="2177.56" width="177.67" height="86.77" fill="#fd9a6a"/>
<rect x="1365.16" y="2177.56" width="177.67" height="86.77" fill="#fd9a6a"/>
<rect x="1546.76" y="2177.56" width="177.67" height="86.77" fill="#fd9668"/>
<rect x="275.56" y="2268.26" width="177.67" height="86.77" fill="#8e2a81"/>
<rect x="457.16" y="2268.26" width="177.67" height="86.77" fill="#762181"/>
<rect x="638.76" y="2268.26" width="177.67" height="86.77" fill="#400f74"/>
<rect x="820.36" y="2268.26" width="177.67" height="86.77" fill="#782281"/>
<rect x="1001.96" y="2268.26" width="177.67" height="86.77" fill="#fcfbbd"/>
<rect x="1183.56" y="2268.26" width="177.67" height="86.77" fill="#fcf9bb"/>
<rect x="1365.16" y="2268.26" width="177.67" height="86.77" fill="#fcfdbf"/>
<rect x="1546.76" y="2268.26" width="177.67" height="86.77" fill="#fcfdbf"/>
<rect x="275.56" y="2358.96" width="177.67" height="86.77" fill="#000004"/>
<rect x="457.16" y="2358.96" width="177.67" height="86.77" fill="#02020b"/>
<rect x="638.76" y="2358.96" width="177.67" height="86.77" fill="#0d0a29"/>
<rect x="820.36" y="2358.96" width="177.67" height="86.77" fill="#000004"/>
<rect x="1001.96" y="2358.96" width="177.67" height="86.77" fill="#d8456c"/>
<rect x="1183.56" y="2358.96" width="177.67" height="86.77" fill="#d9466b"/>
<rect x="1365.16" y="2358.96" width="177.67" height="86.77" fill="#d6456c"/>
<rect x="1546.76" y="2358.96" width="177.67" height="86.77" fill="#d6456c"/>
<rect x="273.60" y="2084.90" width="1452.80" height="362.80" fill="none" stroke="#000" stroke-width="5.89" stroke-linejoin="round"/>
<text class="c" fill="#fff" style="font-size:30.74px" transform="translate(364.40 2140.67) scale(1 1.050)">3.9011</text>
<text class="c" fill="#fff" style="font-size:30.74px" transform="translate(546.00 2140.67) scale(1 1.050)">3.8767</text>
<text class="c" fill="#fff" style="font-size:30.74px" transform="translate(727.60 2140.67) scale(1 1.050)">5.1104</text>
<text class="c" fill="#fff" style="font-size:30.74px" transform="translate(909.20 2140.67) scale(1 1.050)">5.4635</text>
<text class="c" fill="#000" style="font-size:30.74px" transform="translate(1090.80 2140.67) scale(1 1.050)">7.6986</text>
<text class="c" fill="#000" style="font-size:30.74px" transform="translate(1272.40 2140.67) scale(1 1.050)">7.7539</text>
<text class="c" fill="#000" style="font-size:30.74px" transform="translate(1454.00 2140.67) scale(1 1.050)">7.8037</text>
<text class="c" fill="#000" style="font-size:30.74px" transform="translate(1635.60 2140.67) scale(1 1.050)">7.8008</text>
<text class="c" fill="#fff" style="font-size:30.74px" transform="translate(364.40 2231.37) scale(1 1.050)">2.8715</text>
<text class="c" fill="#fff" style="font-size:30.74px" transform="translate(546.00 2231.37) scale(1 1.050)">2.5977</text>
<text class="c" fill="#fff" style="font-size:30.74px" transform="translate(727.60 2231.37) scale(1 1.050)">4.4778</text>
<text class="c" fill="#fff" style="font-size:30.74px" transform="translate(909.20 2231.37) scale(1 1.050)">3.9510</text>
<text class="c" fill="#000" style="font-size:30.74px" transform="translate(1090.80 2231.37) scale(1 1.050)">7.3018</text>
<text class="c" fill="#000" style="font-size:30.74px" transform="translate(1272.40 2231.37) scale(1 1.050)">7.3079</text>
<text class="c" fill="#000" style="font-size:30.74px" transform="translate(1454.00 2231.37) scale(1 1.050)">7.3035</text>
<text class="c" fill="#000" style="font-size:30.74px" transform="translate(1635.60 2231.37) scale(1 1.050)">7.2404</text>
<text class="c" fill="#fff" style="font-size:30.74px" transform="translate(364.40 2322.07) scale(1 1.050)">4.2462</text>
<text class="c" fill="#fff" style="font-size:30.74px" transform="translate(546.00 2322.07) scale(1 1.050)">3.7704</text>
<text class="c" fill="#fff" style="font-size:30.74px" transform="translate(727.60 2322.07) scale(1 1.050)">2.7345</text>
<text class="c" fill="#fff" style="font-size:30.74px" transform="translate(909.20 2322.07) scale(1 1.050)">3.7984</text>
<text class="c" fill="#000" style="font-size:30.74px" transform="translate(1090.80 2322.07) scale(1 1.050)">8.9775</text>
<text class="c" fill="#000" style="font-size:30.74px" transform="translate(1272.40 2322.07) scale(1 1.050)">8.9199</text>
<text class="c" fill="#000" style="font-size:30.74px" transform="translate(1454.00 2322.07) scale(1 1.050)">8.9927</text>
<text class="c" fill="#000" style="font-size:30.74px" transform="translate(1635.60 2322.07) scale(1 1.050)">9.0098</text>
<text class="c" fill="#fff" style="font-size:30.74px" transform="translate(364.40 2412.77) scale(1 1.050)">1.0174</text>
<text class="c" fill="#fff" style="font-size:30.74px" transform="translate(546.00 2412.77) scale(1 1.050)">1.2030</text>
<text class="c" fill="#fff" style="font-size:30.74px" transform="translate(727.60 2412.77) scale(1 1.050)">1.6315</text>
<text class="c" fill="#fff" style="font-size:30.74px" transform="translate(909.20 2412.77) scale(1 1.050)">1.0306</text>
<text class="c" fill="#000" style="font-size:30.74px" transform="translate(1090.80 2412.77) scale(1 1.050)">5.6828</text>
<text class="c" fill="#000" style="font-size:30.74px" transform="translate(1272.40 2412.77) scale(1 1.050)">5.7101</text>
<text class="c" fill="#000" style="font-size:30.74px" transform="translate(1454.00 2412.77) scale(1 1.050)">5.6614</text>
<text class="c" fill="#000" style="font-size:30.74px" transform="translate(1635.60 2412.77) scale(1 1.050)">5.6647</text>
<line x1="257.40" y1="2130.25" x2="273.60" y2="2130.25" stroke="#000" stroke-width="5.40"/>
<text class="r" style="font-size:28.09px" transform="translate(254.35 2139.79) scale(1 1.060)">Long answer</text>
<line x1="257.40" y1="2220.95" x2="273.60" y2="2220.95" stroke="#000" stroke-width="5.40"/>
<text class="r" style="font-size:28.09px" transform="translate(254.35 2230.49) scale(1 1.060)">Short answer</text>
<line x1="257.40" y1="2311.65" x2="273.60" y2="2311.65" stroke="#000" stroke-width="5.40"/>
<text class="r" style="font-size:28.09px" transform="translate(254.35 2321.19) scale(1 1.060)">Multiple choice</text>
<line x1="257.40" y1="2402.35" x2="273.60" y2="2402.35" stroke="#000" stroke-width="5.40"/>
<text class="r" style="font-size:28.09px" transform="translate(254.35 2411.89) scale(1 1.060)">Report generation</text>
<rect x="1773.30" y="2444.866" width="45.10" height="2.834" fill="#010005"/>
<rect x="1773.30" y="2442.031" width="45.10" height="2.834" fill="#010108"/>
<rect x="1773.30" y="2439.197" width="45.10" height="2.834" fill="#02020b"/>
<rect x="1773.30" y="2436.362" width="45.10" height="2.834" fill="#03030f"/>
<rect x="1773.30" y="2433.528" width="45.10" height="2.834" fill="#040414"/>
<rect x="1773.30" y="2430.694" width="45.10" height="2.834" fill="#060518"/>
<rect x="1773.30" y="2427.859" width="45.10" height="2.834" fill="#07061c"/>
<rect x="1773.30" y="2425.025" width="45.10" height="2.834" fill="#090720"/>
<rect x="1773.30" y="2422.191" width="45.10" height="2.834" fill="#0b0924"/>
<rect x="1773.30" y="2419.356" width="45.10" height="2.834" fill="#0d0a29"/>
<rect x="1773.30" y="2416.522" width="45.10" height="2.834" fill="#100b2d"/>
<rect x="1773.30" y="2413.688" width="45.10" height="2.834" fill="#120d31"/>
<rect x="1773.30" y="2410.853" width="45.10" height="2.834" fill="#140e36"/>
<rect x="1773.30" y="2408.019" width="45.10" height="2.834" fill="#160f3b"/>
<rect x="1773.30" y="2405.184" width="45.10" height="2.834" fill="#19103f"/>
<rect x="1773.30" y="2402.350" width="45.10" height="2.834" fill="#1c1044"/>
<rect x="1773.30" y="2399.516" width="45.10" height="2.834" fill="#1e1149"/>
<rect x="1773.30" y="2396.681" width="45.10" height="2.834" fill="#21114e"/>
<rect x="1773.30" y="2393.847" width="45.10" height="2.834" fill="#241253"/>
<rect x="1773.30" y="2391.012" width="45.10" height="2.834" fill="#271258"/>
<rect x="1773.30" y="2388.178" width="45.10" height="2.834" fill="#2a115c"/>
<rect x="1773.30" y="2385.344" width="45.10" height="2.834" fill="#2d1161"/>
<rect x="1773.30" y="2382.509" width="45.10" height="2.834" fill="#311165"/>
<rect x="1773.30" y="2379.675" width="45.10" height="2.834" fill="#341069"/>
<rect x="1773.30" y="2376.841" width="45.10" height="2.834" fill="#38106c"/>
<rect x="1773.30" y="2374.006" width="45.10" height="2.834" fill="#3b0f70"/>
<rect x="1773.30" y="2371.172" width="45.10" height="2.834" fill="#3f0f72"/>
<rect x="1773.30" y="2368.338" width="45.10" height="2.834" fill="#420f75"/>
<rect x="1773.30" y="2365.503" width="45.10" height="2.834" fill="#451077"/>
<rect x="1773.30" y="2362.669" width="45.10" height="2.834" fill="#491078"/>
<rect x="1773.30" y="2359.834" width="45.10" height="2.834" fill="#4c117a"/>
<rect x="1773.30" y="2357.000" width="45.10" height="2.834" fill="#4f127b"/>
<rect x="1773.30" y="2354.166" width="45.10" height="2.834" fill="#52137c"/>
<rect x="1773.30" y="2351.331" width="45.10" height="2.834" fill="#56147d"/>
<rect x="1773.30" y="2348.497" width="45.10" height="2.834" fill="#59157e"/>
<rect x="1773.30" y="2345.662" width="45.10" height="2.834" fill="#5c167f"/>
<rect x="1773.30" y="2342.828" width="45.10" height="2.834" fill="#5f187f"/>
<rect x="1773.30" y="2339.994" width="45.10" height="2.834" fill="#621980"/>
<rect x="1773.30" y="2337.159" width="45.10" height="2.834" fill="#651a80"/>
<rect x="1773.30" y="2334.325" width="45.10" height="2.834" fill="#681c81"/>
<rect x="1773.30" y="2331.491" width="45.10" height="2.834" fill="#6b1d81"/>
<rect x="1773.30" y="2328.656" width="45.10" height="2.834" fill="#6e1e81"/>
<rect x="1773.30" y="2325.822" width="45.10" height="2.834" fill="#721f81"/>
<rect x="1773.30" y="2322.987" width="45.10" height="2.834" fill="#752181"/>
<rect x="1773.30" y="2320.153" width="45.10" height="2.834" fill="#782281"/>
<rect x="1773.30" y="2317.319" width="45.10" height="2.834" fill="#7b2382"/>
<rect x="1773.30" y="2314.484" width="45.10" height="2.834" fill="#7e2482"/>
<rect x="1773.30" y="2311.650" width="45.10" height="2.834" fill="#812581"/>
<rect x="1773.30" y="2308.816" width="45.10" height="2.834" fill="#842681"/>
<rect x="1773.30" y="2305.981" width="45.10" height="2.834" fill="#882781"/>
<rect x="1773.30" y="2303.147" width="45.10" height="2.834" fill="#8b2981"/>
<rect x="1773.30" y="2300.312" width="45.10" height="2.834" fill="#8e2a81"/>
<rect x="1773.30" y="2297.478" width="45.10" height="2.834" fill="#912b81"/>
<rect x="1773.30" y="2294.644" width="45.10" height="2.834" fill="#942c80"/>
<rect x="1773.30" y="2291.809" width="45.10" height="2.834" fill="#982d80"/>
<rect x="1773.30" y="2288.975" width="45.10" height="2.834" fill="#9b2e7f"/>
<rect x="1773.30" y="2286.141" width="45.10" height="2.834" fill="#9e2f7f"/>
<rect x="1773.30" y="2283.306" width="45.10" height="2.834" fill="#a1307e"/>
<rect x="1773.30" y="2280.472" width="45.10" height="2.834" fill="#a5317e"/>
<rect x="1773.30" y="2277.637" width="45.10" height="2.834" fill="#a8327d"/>
<rect x="1773.30" y="2274.803" width="45.10" height="2.834" fill="#ab337c"/>
<rect x="1773.30" y="2271.969" width="45.10" height="2.834" fill="#ae347b"/>
<rect x="1773.30" y="2269.134" width="45.10" height="2.834" fill="#b2357b"/>
<rect x="1773.30" y="2266.300" width="45.10" height="2.834" fill="#b5367a"/>
<rect x="1773.30" y="2263.466" width="45.10" height="2.834" fill="#b83779"/>
<rect x="1773.30" y="2260.631" width="45.10" height="2.834" fill="#bc3978"/>
<rect x="1773.30" y="2257.797" width="45.10" height="2.834" fill="#bf3a77"/>
<rect x="1773.30" y="2254.963" width="45.10" height="2.834" fill="#c23b75"/>
<rect x="1773.30" y="2252.128" width="45.10" height="2.834" fill="#c53c74"/>
<rect x="1773.30" y="2249.294" width="45.10" height="2.834" fill="#c83e73"/>
<rect x="1773.30" y="2246.459" width="45.10" height="2.834" fill="#cc3f71"/>
<rect x="1773.30" y="2243.625" width="45.10" height="2.834" fill="#cf4070"/>
<rect x="1773.30" y="2240.791" width="45.10" height="2.834" fill="#d2426f"/>
<rect x="1773.30" y="2237.956" width="45.10" height="2.834" fill="#d5446d"/>
<rect x="1773.30" y="2235.122" width="45.10" height="2.834" fill="#d8456c"/>
<rect x="1773.30" y="2232.287" width="45.10" height="2.834" fill="#db476a"/>
<rect x="1773.30" y="2229.453" width="45.10" height="2.834" fill="#de4968"/>
<rect x="1773.30" y="2226.619" width="45.10" height="2.834" fill="#e04c67"/>
<rect x="1773.30" y="2223.784" width="45.10" height="2.834" fill="#e34e65"/>
<rect x="1773.30" y="2220.950" width="45.10" height="2.834" fill="#e55064"/>
<rect x="1773.30" y="2218.116" width="45.10" height="2.834" fill="#e85362"/>
<rect x="1773.30" y="2215.281" width="45.10" height="2.834" fill="#ea5661"/>
<rect x="1773.30" y="2212.447" width="45.10" height="2.834" fill="#ec5860"/>
<rect x="1773.30" y="2209.613" width="45.10" height="2.834" fill="#ee5b5e"/>
<rect x="1773.30" y="2206.778" width="45.10" height="2.834" fill="#f05f5e"/>
<rect x="1773.30" y="2203.944" width="45.10" height="2.834" fill="#f2625d"/>
<rect x="1773.30" y="2201.109" width="45.10" height="2.834" fill="#f3655c"/>
<rect x="1773.30" y="2198.275" width="45.10" height="2.834" fill="#f4695c"/>
<rect x="1773.30" y="2195.441" width="45.10" height="2.834" fill="#f66c5c"/>
<rect x="1773.30" y="2192.606" width="45.10" height="2.834" fill="#f7705c"/>
<rect x="1773.30" y="2189.772" width="45.10" height="2.834" fill="#f8745c"/>
<rect x="1773.30" y="2186.938" width="45.10" height="2.834" fill="#f9785d"/>
<rect x="1773.30" y="2184.103" width="45.10" height="2.834" fill="#f97b5d"/>
<rect x="1773.30" y="2181.269" width="45.10" height="2.834" fill="#fa7f5e"/>
<rect x="1773.30" y="2178.434" width="45.10" height="2.834" fill="#fb835f"/>
<rect x="1773.30" y="2175.600" width="45.10" height="2.834" fill="#fb8761"/>
<rect x="1773.30" y="2172.766" width="45.10" height="2.834" fill="#fc8a62"/>
<rect x="1773.30" y="2169.931" width="45.10" height="2.834" fill="#fc8e64"/>
<rect x="1773.30" y="2167.097" width="45.10" height="2.834" fill="#fd9266"/>
<rect x="1773.30" y="2164.262" width="45.10" height="2.834" fill="#fd9668"/>
<rect x="1773.30" y="2161.428" width="45.10" height="2.834" fill="#fd9a6a"/>
<rect x="1773.30" y="2158.594" width="45.10" height="2.834" fill="#fe9d6c"/>
<rect x="1773.30" y="2155.759" width="45.10" height="2.834" fill="#fea16e"/>
<rect x="1773.30" y="2152.925" width="45.10" height="2.834" fill="#fea571"/>
<rect x="1773.30" y="2150.091" width="45.10" height="2.834" fill="#fea973"/>
<rect x="1773.30" y="2147.256" width="45.10" height="2.834" fill="#feac76"/>
<rect x="1773.30" y="2144.422" width="45.10" height="2.834" fill="#feb078"/>
<rect x="1773.30" y="2141.588" width="45.10" height="2.834" fill="#feb47b"/>
<rect x="1773.30" y="2138.753" width="45.10" height="2.834" fill="#feb77e"/>
<rect x="1773.30" y="2135.919" width="45.10" height="2.834" fill="#febb81"/>
<rect x="1773.30" y="2133.084" width="45.10" height="2.834" fill="#febf84"/>
<rect x="1773.30" y="2130.250" width="45.10" height="2.834" fill="#fec287"/>
<rect x="1773.30" y="2127.416" width="45.10" height="2.834" fill="#fec68a"/>
<rect x="1773.30" y="2124.581" width="45.10" height="2.834" fill="#feca8d"/>
<rect x="1773.30" y="2121.747" width="45.10" height="2.834" fill="#fecd90"/>
<rect x="1773.30" y="2118.912" width="45.10" height="2.834" fill="#fed194"/>
<rect x="1773.30" y="2116.078" width="45.10" height="2.834" fill="#fed597"/>
<rect x="1773.30" y="2113.244" width="45.10" height="2.834" fill="#fed89a"/>
<rect x="1773.30" y="2110.409" width="45.10" height="2.834" fill="#fddc9e"/>
<rect x="1773.30" y="2107.575" width="45.10" height="2.834" fill="#fde0a1"/>
<rect x="1773.30" y="2104.741" width="45.10" height="2.834" fill="#fde3a5"/>
<rect x="1773.30" y="2101.906" width="45.10" height="2.834" fill="#fde7a9"/>
<rect x="1773.30" y="2099.072" width="45.10" height="2.834" fill="#fdebac"/>
<rect x="1773.30" y="2096.238" width="45.10" height="2.834" fill="#fceeb0"/>
<rect x="1773.30" y="2093.403" width="45.10" height="2.834" fill="#fcf2b4"/>
<rect x="1773.30" y="2090.569" width="45.10" height="2.834" fill="#fcf6b8"/>
<rect x="1773.30" y="2087.734" width="45.10" height="2.834" fill="#fcf9bb"/>
<rect x="1773.30" y="2084.900" width="45.10" height="2.834" fill="#fcfdbf"/>
<line x1="1773.30" y1="2403.10" x2="1781.84" y2="2403.10" stroke="#000" stroke-width="3.93"/>
<line x1="1809.86" y1="2403.10" x2="1818.40" y2="2403.10" stroke="#000" stroke-width="3.93"/>
<text class="b" style="font-size:30.83px" transform="translate(1828.10 2413.12) scale(1 1.030)">2</text>
<line x1="1773.30" y1="2312.31" x2="1781.84" y2="2312.31" stroke="#000" stroke-width="3.93"/>
<line x1="1809.86" y1="2312.31" x2="1818.40" y2="2312.31" stroke="#000" stroke-width="3.93"/>
<text class="b" style="font-size:30.83px" transform="translate(1828.10 2322.34) scale(1 1.030)">4</text>
<line x1="1773.30" y1="2221.52" x2="1781.84" y2="2221.52" stroke="#000" stroke-width="3.93"/>
<line x1="1809.86" y1="2221.52" x2="1818.40" y2="2221.52" stroke="#000" stroke-width="3.93"/>
<text class="b" style="font-size:30.83px" transform="translate(1828.10 2231.55) scale(1 1.030)">6</text>
<line x1="1773.30" y1="2130.74" x2="1781.84" y2="2130.74" stroke="#000" stroke-width="3.93"/>
<line x1="1809.86" y1="2130.74" x2="1818.40" y2="2130.74" stroke="#000" stroke-width="3.93"/>
<text class="b" style="font-size:30.83px" transform="translate(1828.10 2140.76) scale(1 1.030)">8</text>
<rect x="1773.30" y="2084.90" width="45.10" height="362.80" fill="none" stroke="#000" stroke-width="3.93" stroke-linejoin="round"/>
<line x1="364.40" y1="2447.70" x2="364.40" y2="2463.90" stroke="#000" stroke-width="5.40"/>
<text class="x" style="font-size:28.70px" transform="translate(375.40 2487.20) rotate(-45) scale(1 1.050)">LLaVA 1.6 (Mistral 7B)</text>
<line x1="546.00" y1="2447.70" x2="546.00" y2="2463.90" stroke="#000" stroke-width="5.40"/>
<text class="x" style="font-size:28.70px" transform="translate(557.00 2487.20) rotate(-45) scale(1 1.050)">LLaVA 1.6 (Vicuna 13B)</text>
<line x1="727.60" y1="2447.70" x2="727.60" y2="2463.90" stroke="#000" stroke-width="5.40"/>
<text class="x" style="font-size:28.70px" transform="translate(738.60 2487.20) rotate(-45) scale(1 1.050)">CXR-LLaVA</text>
<line x1="909.20" y1="2447.70" x2="909.20" y2="2463.90" stroke="#000" stroke-width="5.40"/>
<text class="x" style="font-size:28.70px" transform="translate(920.20 2487.20) rotate(-45) scale(1 1.050)">LLaVA-Med</text>
<line x1="1090.80" y1="2447.70" x2="1090.80" y2="2463.90" stroke="#000" stroke-width="5.40"/>
<text class="x" style="font-size:28.70px" transform="translate(1101.80 2487.20) rotate(-45) scale(1 1.050)">CT-CHAT (Mistral 7B)</text>
<line x1="1272.40" y1="2447.70" x2="1272.40" y2="2463.90" stroke="#000" stroke-width="5.40"/>
<text class="x" style="font-size:28.70px" transform="translate(1283.40 2487.20) rotate(-45) scale(1 1.050)">CT-CHAT (Vicuna 13B)</text>
<line x1="1454.00" y1="2447.70" x2="1454.00" y2="2463.90" stroke="#000" stroke-width="5.40"/>
<text class="x" style="font-size:28.70px" transform="translate(1465.00 2487.20) rotate(-45) scale(1 1.050)">CT-CHAT (Llama 3.1 8B)</text>
<line x1="1635.60" y1="2447.70" x2="1635.60" y2="2463.90" stroke="#000" stroke-width="5.40"/>
<text class="x" style="font-size:28.70px" transform="translate(1646.60 2487.20) rotate(-45) scale(1 1.050)">CT-CHAT (Llama 3.1 70B)</text>
</g>
</svg>
</body></html>
